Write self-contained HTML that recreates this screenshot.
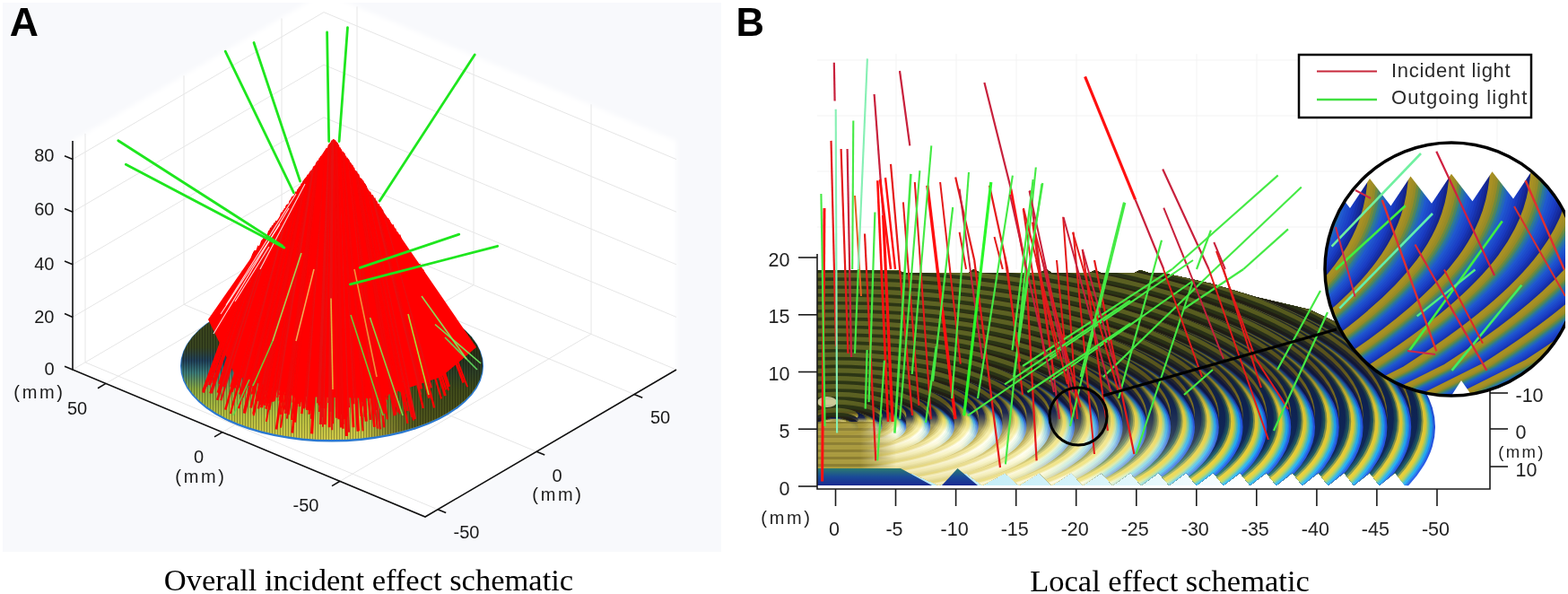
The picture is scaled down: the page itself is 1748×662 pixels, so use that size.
<!DOCTYPE html><html><head><meta charset="utf-8"><style>html,body{margin:0;padding:0;background:#fff;overflow:hidden}svg{display:block}</style></head><body><svg width="1748" height="662" viewBox="0 0 1748 662"><rect x="3" y="3" width="801" height="612" fill="#f8f9fc"/><defs><filter id="soft" x="-5%" y="-5%" width="110%" height="110%"><feGaussianBlur stdDeviation="2.5"/></filter></defs><polygon points="81,157 361,-8 754,157 754,412 474,576 81,412" fill="#ffffff" filter="url(#soft)"/><polyline points="81,412.0 361,248.0 754,412.0" stroke="#e6e6e6" stroke-width="1" fill="none"/><polyline points="81,353.4 361,189.4 754,353.4" stroke="#e6e6e6" stroke-width="1" fill="none"/><polyline points="81,294.8 361,130.8 754,294.8" stroke="#e6e6e6" stroke-width="1" fill="none"/><polyline points="81,236.2 361,72.2 754,236.2" stroke="#e6e6e6" stroke-width="1" fill="none"/><polyline points="81,177.6 361,13.6 754,177.6" stroke="#e6e6e6" stroke-width="1" fill="none"/><line x1="95" y1="403.8" x2="95" y2="148.8" stroke="#e6e6e6" stroke-width="1" fill="none"/><line x1="205" y1="339.3" x2="205" y2="84.3" stroke="#e6e6e6" stroke-width="1" fill="none"/><line x1="314" y1="275.5" x2="314" y2="20.5" stroke="#e6e6e6" stroke-width="1" fill="none"/><line x1="398" y1="263.4" x2="398" y2="7.4" stroke="#e6e6e6" stroke-width="1" fill="none"/><line x1="528" y1="317.6" x2="528" y2="61.6" stroke="#e6e6e6" stroke-width="1" fill="none"/><line x1="659" y1="372.3" x2="659" y2="116.3" stroke="#e6e6e6" stroke-width="1" fill="none"/><line x1="95" y1="403.8" x2="488" y2="567.8" stroke="#e6e6e6" stroke-width="1" fill="none"/><line x1="205" y1="339.3" x2="598" y2="503.3" stroke="#e6e6e6" stroke-width="1" fill="none"/><line x1="314" y1="275.5" x2="707" y2="439.5" stroke="#e6e6e6" stroke-width="1" fill="none"/><line x1="398" y1="263.4" x2="118" y2="427.4" stroke="#e6e6e6" stroke-width="1" fill="none"/><line x1="528" y1="317.6" x2="248" y2="481.6" stroke="#e6e6e6" stroke-width="1" fill="none"/><line x1="659" y1="372.3" x2="379" y2="536.3" stroke="#e6e6e6" stroke-width="1" fill="none"/><polyline points="81,157 81,412 474,576 754,412" stroke="#111" stroke-width="1.6" fill="none"/><line x1="81" y1="412.0" x2="72" y2="408.2" stroke="#111" stroke-width="1.6" fill="none"/><line x1="81" y1="353.4" x2="72" y2="349.6" stroke="#111" stroke-width="1.6" fill="none"/><line x1="81" y1="294.8" x2="72" y2="291.0" stroke="#111" stroke-width="1.6" fill="none"/><line x1="81" y1="236.2" x2="72" y2="232.4" stroke="#111" stroke-width="1.6" fill="none"/><line x1="81" y1="177.6" x2="72" y2="173.8" stroke="#111" stroke-width="1.6" fill="none"/><line x1="118" y1="427.4" x2="109" y2="432.7" stroke="#111" stroke-width="1.6" fill="none"/><line x1="248" y1="481.6" x2="239" y2="486.9" stroke="#111" stroke-width="1.6" fill="none"/><line x1="379" y1="536.3" x2="370" y2="541.6" stroke="#111" stroke-width="1.6" fill="none"/><line x1="488" y1="567.8" x2="497.2" y2="571.6" stroke="#111" stroke-width="1.6" fill="none"/><line x1="598" y1="503.3" x2="607.2" y2="507.1" stroke="#111" stroke-width="1.6" fill="none"/><line x1="707" y1="439.5" x2="716.2" y2="443.3" stroke="#111" stroke-width="1.6" fill="none"/><text x="60.5" y="417.5" text-anchor="end" font-family="Liberation Sans, Arial, sans-serif" font-size="20" fill="#1a1a1a">0</text><text x="60.5" y="359.6" text-anchor="end" font-family="Liberation Sans, Arial, sans-serif" font-size="20" fill="#1a1a1a">20</text><text x="60.5" y="300.5" text-anchor="end" font-family="Liberation Sans, Arial, sans-serif" font-size="20" fill="#1a1a1a">40</text><text x="60.5" y="240.3" text-anchor="end" font-family="Liberation Sans, Arial, sans-serif" font-size="20" fill="#1a1a1a">60</text><text x="60.5" y="180.4" text-anchor="end" font-family="Liberation Sans, Arial, sans-serif" font-size="20" fill="#1a1a1a">80</text><text x="44" y="444" text-anchor="middle" letter-spacing="2.7" font-family="Liberation Sans, Arial, sans-serif" font-size="20" fill="#1a1a1a">(mm)</text><text x="86" y="462" text-anchor="middle" font-family="Liberation Sans, Arial, sans-serif" font-size="20" fill="#1a1a1a">50</text><text x="221.5" y="516.4" text-anchor="middle" font-family="Liberation Sans, Arial, sans-serif" font-size="20" fill="#1a1a1a">0</text><text x="224" y="538" text-anchor="middle" letter-spacing="2.7" font-family="Liberation Sans, Arial, sans-serif" font-size="20" fill="#1a1a1a">(mm)</text><text x="341" y="570" text-anchor="middle" font-family="Liberation Sans, Arial, sans-serif" font-size="20" fill="#1a1a1a">-50</text><text x="520" y="600" text-anchor="middle" font-family="Liberation Sans, Arial, sans-serif" font-size="20" fill="#1a1a1a">-50</text><text x="621" y="537" text-anchor="middle" font-family="Liberation Sans, Arial, sans-serif" font-size="20" fill="#1a1a1a">0</text><text x="622" y="558" text-anchor="middle" letter-spacing="2.7" font-family="Liberation Sans, Arial, sans-serif" font-size="20" fill="#1a1a1a">(mm)</text><text x="736" y="472" text-anchor="middle" font-family="Liberation Sans, Arial, sans-serif" font-size="20" fill="#1a1a1a">50</text><defs><linearGradient id="discg" x1="0" y1="0" x2="0" y2="1"><stop offset="0" stop-color="#3c4418"/><stop offset="0.38" stop-color="#384420"/><stop offset="0.47" stop-color="#20405a"/><stop offset="0.55" stop-color="#3a7a78"/><stop offset="0.66" stop-color="#8aa840"/><stop offset="0.85" stop-color="#b8c040"/><stop offset="1" stop-color="#d0c848"/></linearGradient><linearGradient id="discr" x1="0" y1="0" x2="1" y2="0"><stop offset="0" stop-color="#000" stop-opacity="0"/><stop offset="0.6" stop-color="#000" stop-opacity="0"/><stop offset="0.78" stop-color="#2a3010" stop-opacity="0.75"/><stop offset="1" stop-color="#2a3010" stop-opacity="0.8"/></linearGradient><pattern id="hatch" width="3" height="10" patternUnits="userSpaceOnUse"><rect x="0" y="0" width="1" height="10" fill="#000" fill-opacity="0.28"/></pattern></defs><ellipse cx="370" cy="408" rx="169" ry="84.5" fill="#2a78d0"/><ellipse cx="370" cy="407" rx="168" ry="83" fill="url(#discg)"/><ellipse cx="370" cy="407" rx="168" ry="83" fill="url(#discr)"/><ellipse cx="370" cy="407" rx="168" ry="83" fill="url(#hatch)"/><polygon points="372,155 232,356 262,418 330,442 420,444 492,420 531,387" fill="#ff0000"/><line x1="356.7" y1="176.9" x2="326.3" y2="448.5" stroke="#ff0000" stroke-width="1.9"/><line x1="374.5" y1="158.7" x2="380.9" y2="461.8" stroke="#ff0000" stroke-width="3.1"/><line x1="347.6" y1="189.8" x2="307.1" y2="438.6" stroke="#f40606" stroke-width="1.9"/><line x1="321.2" y1="227.5" x2="265.8" y2="432.3" stroke="#e81010" stroke-width="2.0"/><line x1="334.5" y1="208.6" x2="279.7" y2="454.5" stroke="#ff0000" stroke-width="2.6"/><line x1="357.9" y1="175.1" x2="325.8" y2="482.5" stroke="#ff0000" stroke-width="2.6"/><line x1="327.4" y1="218.6" x2="272.7" y2="437.9" stroke="#e81010" stroke-width="2.0"/><line x1="345.2" y1="193.2" x2="296.9" y2="469.8" stroke="#ff0000" stroke-width="1.9"/><line x1="377.0" y1="162.3" x2="388.8" y2="454.3" stroke="#ff0000" stroke-width="2.6"/><line x1="335.7" y1="206.9" x2="288.6" y2="423.1" stroke="#ff0000" stroke-width="2.5"/><line x1="374.8" y1="159.1" x2="382.4" y2="477.7" stroke="#f40606" stroke-width="2.6"/><line x1="367.5" y1="161.4" x2="356.5" y2="459.1" stroke="#ff0000" stroke-width="2.8"/><line x1="339.3" y1="201.7" x2="288.0" y2="455.4" stroke="#e81010" stroke-width="2.5"/><line x1="355.2" y1="179.0" x2="321.2" y2="460.1" stroke="#e81010" stroke-width="3.2"/><line x1="325.3" y1="221.6" x2="270.3" y2="435.9" stroke="#ff0000" stroke-width="2.0"/><line x1="370.7" y1="156.9" x2="367.4" y2="449.5" stroke="#ff0000" stroke-width="2.9"/><line x1="380.0" y1="166.7" x2="399.9" y2="480.3" stroke="#ff0000" stroke-width="2.3"/><line x1="355.5" y1="178.6" x2="321.7" y2="462.2" stroke="#f40606" stroke-width="1.9"/><line x1="329.0" y1="216.4" x2="277.0" y2="430.0" stroke="#ff0000" stroke-width="1.9"/><line x1="396.0" y1="190.1" x2="439.6" y2="463.3" stroke="#f40606" stroke-width="2.2"/><line x1="358.5" y1="174.3" x2="328.6" y2="470.6" stroke="#ff0000" stroke-width="3.1"/><line x1="355.0" y1="179.3" x2="319.9" y2="466.6" stroke="#f40606" stroke-width="1.9"/><line x1="394.1" y1="187.3" x2="432.1" y2="441.3" stroke="#ff0000" stroke-width="2.4"/><line x1="362.9" y1="168.0" x2="342.3" y2="456.9" stroke="#ff0000" stroke-width="2.9"/><line x1="352.7" y1="182.5" x2="313.0" y2="476.6" stroke="#ff0000" stroke-width="2.0"/><line x1="339.7" y1="201.2" x2="292.0" y2="438.8" stroke="#ff0000" stroke-width="1.8"/><line x1="401.6" y1="198.3" x2="446.2" y2="436.8" stroke="#ff0000" stroke-width="1.8"/><line x1="364.1" y1="166.3" x2="345.5" y2="460.9" stroke="#e81010" stroke-width="2.2"/><line x1="304.3" y1="251.7" x2="242.2" y2="445.8" stroke="#e81010" stroke-width="2.7"/><line x1="397.9" y1="192.9" x2="442.1" y2="453.5" stroke="#e81010" stroke-width="2.3"/><line x1="363.7" y1="166.8" x2="345.3" y2="450.3" stroke="#f40606" stroke-width="1.9"/><line x1="329.2" y1="216.1" x2="278.3" y2="425.8" stroke="#ff0000" stroke-width="2.0"/><line x1="378.9" y1="165.1" x2="394.6" y2="450.3" stroke="#e81010" stroke-width="2.0"/><line x1="325.6" y1="221.2" x2="271.5" y2="432.7" stroke="#ff0000" stroke-width="1.9"/><line x1="339.2" y1="201.8" x2="289.8" y2="445.9" stroke="#ff0000" stroke-width="3.1"/><line x1="381.4" y1="168.8" x2="403.0" y2="464.0" stroke="#ff0000" stroke-width="3.0"/><line x1="433.6" y1="245.2" x2="486.3" y2="420.3" stroke="#ff0000" stroke-width="2.0"/><line x1="405.8" y1="204.4" x2="458.5" y2="461.1" stroke="#ff0000" stroke-width="2.5"/><line x1="320.4" y1="228.6" x2="256.9" y2="461.0" stroke="#ff0000" stroke-width="2.0"/><line x1="374.3" y1="158.4" x2="380.0" y2="448.8" stroke="#e81010" stroke-width="2.2"/><line x1="382.2" y1="170.0" x2="404.2" y2="448.2" stroke="#ff0000" stroke-width="2.5"/><line x1="375.3" y1="159.8" x2="383.8" y2="467.0" stroke="#ff0000" stroke-width="2.7"/><line x1="342.8" y1="196.7" x2="295.6" y2="449.8" stroke="#ff0000" stroke-width="2.1"/><line x1="370.7" y1="156.8" x2="367.2" y2="476.2" stroke="#ff0000" stroke-width="2.9"/><line x1="369.3" y1="158.8" x2="362.6" y2="455.3" stroke="#e81010" stroke-width="3.1"/><line x1="365.1" y1="164.8" x2="347.6" y2="483.3" stroke="#ff0000" stroke-width="3.1"/><line x1="359.8" y1="172.4" x2="333.9" y2="453.2" stroke="#ff0000" stroke-width="2.5"/><line x1="354.1" y1="180.5" x2="318.4" y2="460.9" stroke="#e81010" stroke-width="3.0"/><line x1="369.4" y1="158.7" x2="362.5" y2="473.1" stroke="#ff0000" stroke-width="3.0"/><line x1="326.9" y1="219.4" x2="272.6" y2="435.6" stroke="#ff0000" stroke-width="2.5"/><line x1="320.3" y1="228.8" x2="259.0" y2="452.8" stroke="#ff0000" stroke-width="1.9"/><line x1="444.9" y1="261.6" x2="500.6" y2="431.0" stroke="#ff0000" stroke-width="2.8"/><line x1="342.3" y1="197.4" x2="297.3" y2="435.6" stroke="#ff0000" stroke-width="2.6"/><line x1="367.9" y1="160.8" x2="357.4" y2="473.0" stroke="#e81010" stroke-width="3.0"/><line x1="375.0" y1="159.4" x2="382.3" y2="452.6" stroke="#ff0000" stroke-width="2.9"/><line x1="389.7" y1="180.8" x2="422.6" y2="443.7" stroke="#ff0000" stroke-width="2.4"/><line x1="346.7" y1="191.1" x2="303.8" y2="447.8" stroke="#ff0000" stroke-width="2.9"/><line x1="351.8" y1="183.8" x2="312.8" y2="462.2" stroke="#ff0000" stroke-width="1.9"/><line x1="407.6" y1="207.1" x2="463.0" y2="467.0" stroke="#e81010" stroke-width="2.4"/><line x1="425.7" y1="233.6" x2="480.8" y2="432.3" stroke="#e81010" stroke-width="2.5"/><line x1="432.3" y1="243.2" x2="492.0" y2="444.4" stroke="#ff0000" stroke-width="2.0"/><line x1="368.7" y1="159.7" x2="359.9" y2="475.8" stroke="#e81010" stroke-width="1.9"/><line x1="391.5" y1="183.6" x2="429.3" y2="461.0" stroke="#f40606" stroke-width="2.9"/><line x1="316.6" y1="234.1" x2="258.7" y2="436.9" stroke="#ff0000" stroke-width="2.1"/><line x1="332.5" y1="211.4" x2="284.1" y2="421.3" stroke="#f40606" stroke-width="2.6"/><line x1="382.8" y1="170.7" x2="406.9" y2="464.7" stroke="#e81010" stroke-width="2.1"/><line x1="345.7" y1="192.6" x2="300.1" y2="456.8" stroke="#f40606" stroke-width="2.5"/><line x1="341.1" y1="199.2" x2="291.5" y2="454.3" stroke="#ff0000" stroke-width="3.1"/><line x1="363.7" y1="166.8" x2="344.4" y2="461.7" stroke="#ff0000" stroke-width="1.9"/><line x1="350.3" y1="186.0" x2="312.4" y2="440.3" stroke="#ff0000" stroke-width="2.9"/><line x1="407.0" y1="206.1" x2="453.9" y2="429.1" stroke="#ff0000" stroke-width="2.0"/><line x1="424.5" y1="231.8" x2="477.6" y2="425.7" stroke="#ff0000" stroke-width="2.0"/><line x1="364.7" y1="165.4" x2="347.2" y2="466.8" stroke="#ff0000" stroke-width="2.4"/><line x1="360.3" y1="171.7" x2="335.7" y2="448.2" stroke="#ff0000" stroke-width="1.8"/><line x1="376.3" y1="161.4" x2="387.2" y2="464.3" stroke="#ff0000" stroke-width="2.3"/><line x1="372.8" y1="156.2" x2="375.0" y2="459.3" stroke="#ff0000" stroke-width="2.0"/><line x1="412.1" y1="213.7" x2="461.6" y2="427.8" stroke="#ff0000" stroke-width="2.2"/><line x1="288.7" y1="274.0" x2="233.4" y2="429.2" stroke="#ff0000" stroke-width="2.9"/><line x1="423.5" y1="230.4" x2="484.2" y2="454.5" stroke="#ff0000" stroke-width="2.4"/><line x1="374.9" y1="159.2" x2="382.3" y2="467.5" stroke="#f40606" stroke-width="2.8"/><line x1="337.7" y1="203.9" x2="291.3" y2="425.9" stroke="#ff0000" stroke-width="2.4"/><line x1="283.9" y1="280.8" x2="226.5" y2="437.5" stroke="#ff0000" stroke-width="2.9"/><line x1="293.5" y1="267.1" x2="234.3" y2="438.3" stroke="#ff0000" stroke-width="2.2"/><line x1="341.9" y1="197.9" x2="298.1" y2="428.3" stroke="#e81010" stroke-width="2.4"/><line x1="402.4" y1="199.5" x2="454.4" y2="471.9" stroke="#ff0000" stroke-width="2.2"/><line x1="315.1" y1="236.3" x2="251.2" y2="456.7" stroke="#ff0000" stroke-width="2.5"/><line x1="336.9" y1="205.1" x2="285.4" y2="447.5" stroke="#ff0000" stroke-width="2.2"/><line x1="306.3" y1="248.8" x2="251.7" y2="422.5" stroke="#ff0000" stroke-width="2.5"/><line x1="342.5" y1="197.1" x2="294.7" y2="451.8" stroke="#f40606" stroke-width="2.7"/><line x1="376.7" y1="161.9" x2="389.0" y2="481.7" stroke="#e81010" stroke-width="2.2"/><line x1="344.0" y1="194.9" x2="299.4" y2="442.6" stroke="#ff0000" stroke-width="3.0"/><line x1="396.6" y1="191.0" x2="440.8" y2="462.4" stroke="#f40606" stroke-width="3.2"/><line x1="387.3" y1="177.4" x2="420.8" y2="477.6" stroke="#f40606" stroke-width="2.0"/><line x1="294.8" y1="265.2" x2="235.5" y2="438.2" stroke="#e81010" stroke-width="2.7"/><line x1="351.1" y1="184.9" x2="313.0" y2="448.7" stroke="#ff0000" stroke-width="1.9"/><line x1="339.6" y1="201.3" x2="291.4" y2="440.6" stroke="#ff0000" stroke-width="2.2"/><line x1="471.1" y1="300.0" x2="521.1" y2="431.2" stroke="#ff0000" stroke-width="1.8"/><line x1="358.5" y1="174.2" x2="331.2" y2="446.9" stroke="#ff0000" stroke-width="2.5"/><line x1="334.4" y1="208.6" x2="281.0" y2="448.5" stroke="#ff0000" stroke-width="1.9"/><line x1="399.1" y1="194.6" x2="441.6" y2="437.3" stroke="#e81010" stroke-width="1.9"/><line x1="319.9" y1="229.4" x2="267.1" y2="421.1" stroke="#ff0000" stroke-width="1.9"/><line x1="437.3" y1="250.5" x2="496.4" y2="441.2" stroke="#ff0000" stroke-width="2.8"/><line x1="371.0" y1="156.5" x2="368.3" y2="458.9" stroke="#e81010" stroke-width="2.7"/><line x1="284.8" y1="279.5" x2="229.8" y2="430.6" stroke="#e81010" stroke-width="2.7"/><line x1="373.6" y1="157.4" x2="377.9" y2="467.3" stroke="#ff0000" stroke-width="3.0"/><line x1="381.6" y1="169.0" x2="404.6" y2="480.4" stroke="#ff0000" stroke-width="1.9"/><line x1="300.4" y1="257.2" x2="244.2" y2="427.8" stroke="#ff0000" stroke-width="2.3"/><line x1="368.0" y1="160.7" x2="358.5" y2="449.6" stroke="#ff0000" stroke-width="2.7"/><line x1="390.7" y1="182.4" x2="427.2" y2="459.8" stroke="#ff0000" stroke-width="2.4"/><line x1="283.7" y1="281.1" x2="226.6" y2="437.0" stroke="#e81010" stroke-width="1.9"/><line x1="374.2" y1="158.2" x2="380.0" y2="476.6" stroke="#f40606" stroke-width="2.2"/><line x1="327.2" y1="219.0" x2="275.0" y2="427.5" stroke="#ff0000" stroke-width="2.1"/><line x1="386.7" y1="176.4" x2="417.2" y2="460.9" stroke="#f40606" stroke-width="1.9"/><line x1="382.4" y1="170.2" x2="404.8" y2="452.5" stroke="#e81010" stroke-width="2.0"/><line x1="336.9" y1="205.1" x2="282.5" y2="461.6" stroke="#ff0000" stroke-width="2.7"/><line x1="324.8" y1="222.4" x2="268.6" y2="439.3" stroke="#f40606" stroke-width="2.2"/><line x1="392.2" y1="184.6" x2="431.8" y2="467.4" stroke="#f40606" stroke-width="2.2"/><line x1="372.9" y1="156.3" x2="375.4" y2="465.8" stroke="#f40606" stroke-width="2.9"/><line x1="318.0" y1="232.1" x2="261.7" y2="432.4" stroke="#ff0000" stroke-width="2.4"/><line x1="350.3" y1="186.0" x2="311.5" y2="446.7" stroke="#ff0000" stroke-width="1.9"/><line x1="302.6" y1="254.1" x2="243.1" y2="437.7" stroke="#ff0000" stroke-width="3.1"/><line x1="308.2" y1="246.0" x2="246.3" y2="446.2" stroke="#e81010" stroke-width="2.2"/><line x1="327.0" y1="219.2" x2="273.0" y2="434.2" stroke="#f40606" stroke-width="3.1"/><line x1="370.5" y1="157.1" x2="366.8" y2="448.9" stroke="#ff0000" stroke-width="3.1"/><line x1="389.7" y1="180.9" x2="424.4" y2="456.8" stroke="#ff0000" stroke-width="2.4"/><line x1="361.7" y1="169.7" x2="339.4" y2="450.1" stroke="#ff0000" stroke-width="1.8"/><line x1="440.1" y1="254.7" x2="497.1" y2="434.3" stroke="#ff0000" stroke-width="2.2"/><line x1="319.7" y1="229.7" x2="264.9" y2="428.1" stroke="#e81010" stroke-width="1.9"/><line x1="442.9" y1="258.7" x2="500.0" y2="435.1" stroke="#ff0000" stroke-width="1.9"/><line x1="405.3" y1="203.8" x2="453.2" y2="438.9" stroke="#ff0000" stroke-width="2.1"/><line x1="344.0" y1="195.0" x2="296.8" y2="455.8" stroke="#ff0000" stroke-width="2.9"/><line x1="403.4" y1="200.9" x2="451.5" y2="448.0" stroke="#ff0000" stroke-width="2.9"/><line x1="388.4" y1="179.0" x2="423.8" y2="478.4" stroke="#e81010" stroke-width="2.6"/><line x1="388.2" y1="178.6" x2="418.9" y2="442.5" stroke="#f40606" stroke-width="2.4"/><line x1="404.0" y1="201.8" x2="454.6" y2="457.9" stroke="#ff0000" stroke-width="2.5"/><line x1="364.1" y1="166.3" x2="345.9" y2="457.5" stroke="#ff0000" stroke-width="2.8"/><line x1="419.0" y1="223.8" x2="469.4" y2="420.8" stroke="#ff0000" stroke-width="2.5"/><line x1="384.8" y1="173.7" x2="411.0" y2="447.9" stroke="#ff0000" stroke-width="1.9"/><line x1="371.5" y1="155.7" x2="370.2" y2="479.3" stroke="#e81010" stroke-width="2.1"/><line x1="337.1" y1="204.9" x2="288.5" y2="433.9" stroke="#ff0000" stroke-width="2.0"/><line x1="376.1" y1="161.1" x2="386.4" y2="459.7" stroke="#ff0000" stroke-width="2.2"/><line x1="379.6" y1="166.2" x2="398.7" y2="480.8" stroke="#f40606" stroke-width="2.3"/><line x1="393.6" y1="186.5" x2="431.7" y2="445.5" stroke="#ff0000" stroke-width="2.3"/><line x1="325.3" y1="221.7" x2="272.8" y2="426.1" stroke="#ff0000" stroke-width="2.0"/><line x1="371.8" y1="155.3" x2="371.2" y2="472.3" stroke="#ff0000" stroke-width="1.9"/><line x1="416.9" y1="220.6" x2="469.7" y2="433.3" stroke="#f40606" stroke-width="3.1"/><line x1="292.9" y1="267.9" x2="237.7" y2="427.0" stroke="#f40606" stroke-width="3.2"/><line x1="370.7" y1="156.8" x2="367.5" y2="450.8" stroke="#e81010" stroke-width="3.0"/><line x1="326.4" y1="220.1" x2="270.0" y2="443.0" stroke="#ff0000" stroke-width="3.1"/><line x1="399.1" y1="194.6" x2="445.8" y2="461.3" stroke="#f40606" stroke-width="1.9"/><line x1="391.9" y1="184.2" x2="426.9" y2="436.9" stroke="#ff0000" stroke-width="2.1"/><line x1="333.6" y1="209.9" x2="282.9" y2="433.8" stroke="#f40606" stroke-width="2.8"/><line x1="339.0" y1="202.1" x2="293.0" y2="428.5" stroke="#e81010" stroke-width="3.1"/><line x1="340.5" y1="199.9" x2="293.1" y2="441.1" stroke="#e81010" stroke-width="1.8"/><line x1="375.9" y1="160.7" x2="386.4" y2="486.0" stroke="#ff0000" stroke-width="3.1"/><line x1="390.3" y1="181.7" x2="428.3" y2="476.3" stroke="#f40606" stroke-width="2.5"/><line x1="374.6" y1="158.8" x2="380.9" y2="448.8" stroke="#f40606" stroke-width="2.8"/><line x1="357.0" y1="176.5" x2="327.6" y2="443.2" stroke="#f40606" stroke-width="3.0"/><line x1="382.5" y1="170.4" x2="404.8" y2="447.6" stroke="#ff0000" stroke-width="2.7"/><line x1="354.9" y1="179.5" x2="320.6" y2="458.7" stroke="#f40606" stroke-width="2.1"/><line x1="414.7" y1="217.4" x2="471.8" y2="455.0" stroke="#ff0000" stroke-width="2.5"/><line x1="325.9" y1="220.9" x2="266.0" y2="455.3" stroke="#ff0000" stroke-width="2.1"/><line x1="330.3" y1="214.6" x2="272.1" y2="458.0" stroke="#ff0000" stroke-width="2.0"/><line x1="384.9" y1="173.8" x2="413.1" y2="467.9" stroke="#ff0000" stroke-width="2.5"/><line x1="404.2" y1="202.0" x2="448.6" y2="425.9" stroke="#e81010" stroke-width="2.0"/><line x1="362.5" y1="168.5" x2="341.5" y2="454.2" stroke="#e81010" stroke-width="2.0"/><line x1="334.9" y1="208.0" x2="287.6" y2="421.9" stroke="#f40606" stroke-width="2.4"/><line x1="391.8" y1="184.0" x2="428.7" y2="451.5" stroke="#ff0000" stroke-width="3.2"/><line x1="387.4" y1="177.5" x2="418.7" y2="457.1" stroke="#ff0000" stroke-width="3.2"/><line x1="367.2" y1="161.9" x2="355.7" y2="451.6" stroke="#ff0000" stroke-width="2.2"/><line x1="350.8" y1="185.3" x2="308.0" y2="478.5" stroke="#ff0000" stroke-width="2.6"/><line x1="398.7" y1="194.1" x2="443.0" y2="449.4" stroke="#ff0000" stroke-width="3.0"/><line x1="366.6" y1="162.7" x2="354.1" y2="449.2" stroke="#f40606" stroke-width="2.1"/><line x1="375.2" y1="159.7" x2="383.3" y2="464.8" stroke="#ff0000" stroke-width="2.3"/><line x1="402.2" y1="199.1" x2="445.3" y2="426.8" stroke="#f40606" stroke-width="2.1"/><line x1="383.4" y1="171.7" x2="408.4" y2="460.3" stroke="#f40606" stroke-width="1.8"/><line x1="282.5" y1="282.8" x2="226.2" y2="435.3" stroke="#ff0000" stroke-width="2.1"/><line x1="306.4" y1="248.7" x2="249.1" y2="430.9" stroke="#ff0000" stroke-width="2.2"/><line x1="392.4" y1="184.8" x2="429.9" y2="451.2" stroke="#ff0000" stroke-width="2.2"/><line x1="398.1" y1="193.1" x2="443.5" y2="459.7" stroke="#ff0000" stroke-width="1.8"/><line x1="340.2" y1="200.4" x2="290.4" y2="451.4" stroke="#f40606" stroke-width="3.1"/><line x1="361.6" y1="169.8" x2="338.8" y2="455.3" stroke="#f40606" stroke-width="2.9"/><line x1="324.0" y1="223.5" x2="267.6" y2="439.5" stroke="#ff0000" stroke-width="2.9"/><line x1="405.6" y1="204.2" x2="459.0" y2="464.9" stroke="#e81010" stroke-width="2.1"/><line x1="415.3" y1="218.4" x2="469.0" y2="439.6" stroke="#e81010" stroke-width="1.9"/><line x1="325.7" y1="221.2" x2="266.0" y2="454.6" stroke="#ff0000" stroke-width="2.4"/><line x1="386.8" y1="176.7" x2="417.8" y2="461.7" stroke="#e81010" stroke-width="2.3"/><line x1="467.2" y1="294.2" x2="516.7" y2="426.5" stroke="#ff0000" stroke-width="2.7"/><line x1="338.0" y1="203.5" x2="287.4" y2="447.1" stroke="#f40606" stroke-width="2.0"/><line x1="325.6" y1="221.2" x2="269.9" y2="438.8" stroke="#ff0000" stroke-width="2.8"/><line x1="406.3" y1="205.2" x2="454.8" y2="438.4" stroke="#e81010" stroke-width="2.2"/><line x1="347.7" y1="189.7" x2="305.9" y2="447.0" stroke="#f40606" stroke-width="2.1"/><line x1="349.0" y1="187.8" x2="309.3" y2="443.1" stroke="#e81010" stroke-width="2.1"/><line x1="326.9" y1="219.4" x2="274.9" y2="426.1" stroke="#ff0000" stroke-width="2.5"/><line x1="330.9" y1="213.7" x2="272.4" y2="460.7" stroke="#f40606" stroke-width="3.2"/><line x1="320.4" y1="228.7" x2="264.0" y2="434.8" stroke="#ff0000" stroke-width="3.0"/><line x1="403.8" y1="201.5" x2="447.8" y2="425.2" stroke="#ff0000" stroke-width="2.1"/><line x1="304.5" y1="251.3" x2="247.9" y2="428.8" stroke="#e81010" stroke-width="2.1"/><line x1="314.1" y1="237.6" x2="257.4" y2="431.4" stroke="#ff0000" stroke-width="2.4"/><line x1="337.3" y1="204.6" x2="282.6" y2="463.3" stroke="#ff0000" stroke-width="1.9"/><line x1="381.6" y1="169.1" x2="404.0" y2="469.7" stroke="#ff0000" stroke-width="1.9"/><line x1="359.4" y1="173.0" x2="333.5" y2="445.7" stroke="#ff0000" stroke-width="1.9"/><line x1="406.4" y1="205.4" x2="461.2" y2="468.5" stroke="#ff0000" stroke-width="2.4"/><line x1="357.0" y1="176.4" x2="325.0" y2="468.0" stroke="#ff0000" stroke-width="2.1"/><line x1="324.1" y1="223.4" x2="269.3" y2="433.2" stroke="#e81010" stroke-width="2.0"/><line x1="374.9" y1="159.2" x2="382.4" y2="472.9" stroke="#f40606" stroke-width="2.8"/><line x1="363.6" y1="167.0" x2="344.4" y2="457.4" stroke="#ff0000" stroke-width="2.4"/><line x1="294.1" y1="266.3" x2="237.4" y2="430.9" stroke="#ff0000" stroke-width="2.4"/><line x1="285.0" y1="279.2" x2="231.9" y2="425.1" stroke="#ff0000" stroke-width="2.7"/><line x1="360.9" y1="170.8" x2="336.4" y2="461.1" stroke="#ff0000" stroke-width="2.4"/><line x1="341.4" y1="198.6" x2="296.1" y2="433.9" stroke="#ff0000" stroke-width="2.4"/><line x1="302.4" y1="254.3" x2="247.9" y2="422.4" stroke="#f40606" stroke-width="1.9"/><line x1="382.8" y1="170.8" x2="406.6" y2="459.3" stroke="#e81010" stroke-width="2.0"/><line x1="358.8" y1="173.9" x2="331.5" y2="450.2" stroke="#ff0000" stroke-width="3.1"/><line x1="320.6" y1="228.4" x2="263.9" y2="436.0" stroke="#ff0000" stroke-width="2.2"/><line x1="397.9" y1="193.0" x2="438.6" y2="432.9" stroke="#f40606" stroke-width="2.2"/><line x1="383.1" y1="171.2" x2="408.3" y2="469.7" stroke="#ff0000" stroke-width="3.1"/><line x1="386.1" y1="175.7" x2="417.4" y2="475.9" stroke="#ff0000" stroke-width="2.7"/><line x1="421.4" y1="227.3" x2="478.5" y2="443.7" stroke="#ff0000" stroke-width="3.0"/><line x1="340.8" y1="199.5" x2="294.0" y2="439.1" stroke="#f40606" stroke-width="3.1"/><line x1="333.0" y1="210.7" x2="280.6" y2="439.6" stroke="#ff0000" stroke-width="2.1"/><line x1="378.3" y1="164.2" x2="394.0" y2="476.2" stroke="#ff0000" stroke-width="2.7"/><line x1="353.6" y1="181.2" x2="317.8" y2="456.7" stroke="#f40606" stroke-width="2.6"/><line x1="382.7" y1="170.7" x2="406.2" y2="456.7" stroke="#f40606" stroke-width="2.2"/><line x1="344.3" y1="194.5" x2="298.5" y2="450.4" stroke="#ff0000" stroke-width="2.4"/><line x1="367.2" y1="161.9" x2="355.8" y2="448.3" stroke="#e81010" stroke-width="3.2"/><line x1="368.3" y1="160.3" x2="358.9" y2="465.0" stroke="#e81010" stroke-width="2.9"/><line x1="368.2" y1="160.4" x2="359.0" y2="454.6" stroke="#f40606" stroke-width="2.4"/><line x1="330" y1="216" x2="252" y2="340" stroke="#fff0f0" stroke-width="1.1" opacity="0.9"/><line x1="322" y1="232" x2="238" y2="372" stroke="#fff0f0" stroke-width="1.1" opacity="0.9"/><line x1="312" y1="250" x2="246" y2="350" stroke="#fff0f0" stroke-width="1.1" opacity="0.9"/><line x1="340" y1="205" x2="290" y2="300" stroke="#fff0f0" stroke-width="1.1" opacity="0.9"/><line x1="300" y1="275" x2="262" y2="336" stroke="#fff0f0" stroke-width="1.1" opacity="0.9"/><line x1="336" y1="282" x2="304" y2="380" stroke="#a0e860" stroke-width="1.6" opacity="0.9"/><line x1="304" y1="380" x2="282" y2="430" stroke="#60e040" stroke-width="1.6" opacity="0.9"/><line x1="391" y1="351" x2="427" y2="463" stroke="#60e040" stroke-width="1.6" opacity="0.9"/><line x1="412.5" y1="354" x2="449" y2="463" stroke="#80e850" stroke-width="1.6" opacity="0.9"/><line x1="485" y1="361.5" x2="536" y2="405" stroke="#70f060" stroke-width="1.6" opacity="0.9"/><line x1="496" y1="376" x2="532" y2="412" stroke="#60e060" stroke-width="1.6" opacity="0.9"/><line x1="369" y1="332.5" x2="371" y2="434" stroke="#e8c040" stroke-width="1.6" opacity="0.9"/><line x1="278" y1="423" x2="260" y2="463" stroke="#50e050" stroke-width="1.6" opacity="0.9"/><line x1="395" y1="300" x2="420" y2="420" stroke="#f0a040" stroke-width="1.6" opacity="0.9"/><line x1="350" y1="300" x2="330" y2="380" stroke="#f0c060" stroke-width="1.6" opacity="0.9"/><line x1="455" y1="350" x2="478" y2="440" stroke="#a0f040" stroke-width="1.6" opacity="0.9"/><line x1="470" y1="330" x2="520" y2="400" stroke="#80f060" stroke-width="1.6" opacity="0.9"/><line x1="131.8" y1="156.7" x2="314.7" y2="273.9" stroke="#1ee61e" stroke-width="2.8" stroke-linecap="round"/><line x1="140.3" y1="183.3" x2="316.8" y2="276" stroke="#1ee61e" stroke-width="2.8" stroke-linecap="round"/><line x1="251.2" y1="57.2" x2="327.4" y2="214.7" stroke="#1ee61e" stroke-width="2.8" stroke-linecap="round"/><line x1="283" y1="47.5" x2="334.6" y2="202" stroke="#1ee61e" stroke-width="2.8" stroke-linecap="round"/><line x1="364.6" y1="36" x2="366.7" y2="157.5" stroke="#1ee61e" stroke-width="2.8" stroke-linecap="round"/><line x1="387.5" y1="30.6" x2="378.1" y2="157.5" stroke="#1ee61e" stroke-width="2.8" stroke-linecap="round"/><line x1="529.2" y1="61" x2="423.2" y2="224" stroke="#1ee61e" stroke-width="2.8" stroke-linecap="round"/><line x1="511.7" y1="261.2" x2="401.3" y2="298.4" stroke="#1ee61e" stroke-width="2.8" stroke-linecap="round"/><line x1="554.6" y1="274.3" x2="390.4" y2="316.8" stroke="#1ee61e" stroke-width="2.8" stroke-linecap="round"/><text x="10.8" y="40" font-family="Liberation Sans, Arial, sans-serif" font-weight="bold" font-size="44.5" fill="#000">A</text><text x="820.5" y="39.6" font-family="Liberation Sans, Arial, sans-serif" font-weight="bold" font-size="43.5" fill="#000">B</text><line x1="999" y1="60" x2="999" y2="300" stroke="#f3f3f3" stroke-width="1" fill="none"/><line x1="1066" y1="60" x2="1066" y2="300" stroke="#f3f3f3" stroke-width="1" fill="none"/><line x1="1133" y1="60" x2="1133" y2="300" stroke="#f3f3f3" stroke-width="1" fill="none"/><line x1="1200" y1="60" x2="1200" y2="300" stroke="#f3f3f3" stroke-width="1" fill="none"/><line x1="1267" y1="60" x2="1267" y2="300" stroke="#f3f3f3" stroke-width="1" fill="none"/><line x1="1334" y1="60" x2="1334" y2="300" stroke="#f3f3f3" stroke-width="1" fill="none"/><line x1="1401" y1="60" x2="1401" y2="300" stroke="#f3f3f3" stroke-width="1" fill="none"/><line x1="1468" y1="60" x2="1468" y2="300" stroke="#f3f3f3" stroke-width="1" fill="none"/><line x1="1535" y1="60" x2="1535" y2="300" stroke="#f3f3f3" stroke-width="1" fill="none"/><line x1="1602" y1="60" x2="1602" y2="300" stroke="#f3f3f3" stroke-width="1" fill="none"/><line x1="1669" y1="60" x2="1669" y2="300" stroke="#f3f3f3" stroke-width="1" fill="none"/><line x1="911" y1="67" x2="1661" y2="67" stroke="#f3f3f3" stroke-width="1" fill="none"/><line x1="911" y1="129" x2="1661" y2="129" stroke="#f3f3f3" stroke-width="1" fill="none"/><line x1="911" y1="191" x2="1661" y2="191" stroke="#f3f3f3" stroke-width="1" fill="none"/><line x1="911" y1="253" x2="1661" y2="253" stroke="#f3f3f3" stroke-width="1" fill="none"/><defs><linearGradient id="gb0" x1="0" y1="0" x2="0" y2="1"><stop offset="0" stop-color="#3a3414"/><stop offset="0.22" stop-color="#1c2230"/><stop offset="0.34" stop-color="#141c50"/><stop offset="0.45" stop-color="#2048d0"/><stop offset="0.6" stop-color="#2a5ce8"/><stop offset="0.72" stop-color="#3a7cf0"/><stop offset="0.8" stop-color="#c8e0d0"/><stop offset="1" stop-color="#e8e4a8"/></linearGradient><linearGradient id="gc0" x1="0" y1="0" x2="0" y2="1"><stop offset="0" stop-color="#4a4216"/><stop offset="0.22" stop-color="#203048"/><stop offset="0.34" stop-color="#1a3a78"/><stop offset="0.45" stop-color="#1a98e4"/><stop offset="0.6" stop-color="#26b0f0"/><stop offset="0.72" stop-color="#48c8f0"/><stop offset="0.8" stop-color="#f0f4d0"/><stop offset="1" stop-color="#f8f4c8"/></linearGradient><linearGradient id="gg0" x1="0" y1="0" x2="0" y2="1"><stop offset="0" stop-color="#5a5018"/><stop offset="0.22" stop-color="#3a4426"/><stop offset="0.34" stop-color="#2c5a60"/><stop offset="0.45" stop-color="#6ab880"/><stop offset="0.6" stop-color="#98cc70"/><stop offset="0.72" stop-color="#c0dc70"/><stop offset="0.8" stop-color="#fffff0"/><stop offset="1" stop-color="#fffce8"/></linearGradient><linearGradient id="gy0" x1="0" y1="0" x2="0" y2="1"><stop offset="0" stop-color="#7a6a20"/><stop offset="0.22" stop-color="#6a6020"/><stop offset="0.34" stop-color="#8a7a24"/><stop offset="0.45" stop-color="#d8c030"/><stop offset="0.6" stop-color="#e4cc38"/><stop offset="0.72" stop-color="#ecd648"/><stop offset="0.8" stop-color="#f4e880"/><stop offset="1" stop-color="#f0e490"/></linearGradient><linearGradient id="h10" x1="0" y1="0" x2="0" y2="1"><stop offset="0" stop-color="#5a5018"/><stop offset="0.22" stop-color="#3a3a18"/><stop offset="0.34" stop-color="#3a4020"/><stop offset="0.45" stop-color="#1e4a52"/><stop offset="0.6" stop-color="#205a64"/><stop offset="0.72" stop-color="#3a8a80"/><stop offset="0.8" stop-color="#d8cc70"/><stop offset="1" stop-color="#d0c060"/></linearGradient><linearGradient id="h20" x1="0" y1="0" x2="0" y2="1"><stop offset="0" stop-color="#2a2610"/><stop offset="0.22" stop-color="#1a2228"/><stop offset="0.34" stop-color="#142238"/><stop offset="0.45" stop-color="#0e2250"/><stop offset="0.6" stop-color="#10285a"/><stop offset="0.72" stop-color="#1a3c78"/><stop offset="0.8" stop-color="#b0a860"/><stop offset="1" stop-color="#a89848"/></linearGradient><linearGradient id="so0" x1="0" y1="0" x2="0" y2="1"><stop offset="0" stop-color="#5e6424"/><stop offset="0.22" stop-color="#565a1e"/><stop offset="0.34" stop-color="#5a501c"/><stop offset="0.45" stop-color="#7a6c20"/><stop offset="0.6" stop-color="#907e24"/><stop offset="0.72" stop-color="#a89830"/><stop offset="0.8" stop-color="#c8b850"/><stop offset="1" stop-color="#c0b048"/></linearGradient><linearGradient id="sm0" x1="0" y1="0" x2="0" y2="1"><stop offset="0" stop-color="#2c3614"/><stop offset="0.22" stop-color="#283016"/><stop offset="0.34" stop-color="#222430"/><stop offset="0.45" stop-color="#202640"/><stop offset="0.6" stop-color="#283050"/><stop offset="0.72" stop-color="#505850"/><stop offset="0.8" stop-color="#a8a058"/><stop offset="1" stop-color="#a89848"/></linearGradient><linearGradient id="sd0" x1="0" y1="0" x2="0" y2="1"><stop offset="0" stop-color="#2a2610"/><stop offset="0.22" stop-color="#1e1c14"/><stop offset="0.34" stop-color="#101638"/><stop offset="0.45" stop-color="#0c1650"/><stop offset="0.6" stop-color="#12205e"/><stop offset="0.72" stop-color="#1e3070"/><stop offset="0.8" stop-color="#8a8458"/><stop offset="1" stop-color="#908038"/></linearGradient><linearGradient id="gbgc0" x1="0" y1="0" x2="0" y2="1"><stop offset="0" stop-color="#423b15"/><stop offset="0.22" stop-color="#1e293c"/><stop offset="0.34" stop-color="#172b64"/><stop offset="0.45" stop-color="#1d70da"/><stop offset="0.6" stop-color="#2886ec"/><stop offset="0.72" stop-color="#41a2f0"/><stop offset="0.8" stop-color="#dcead0"/><stop offset="1" stop-color="#f0ecb8"/></linearGradient><linearGradient id="gcgg0" x1="0" y1="0" x2="0" y2="1"><stop offset="0" stop-color="#524917"/><stop offset="0.22" stop-color="#2d3a37"/><stop offset="0.34" stop-color="#234a6c"/><stop offset="0.45" stop-color="#42a8b2"/><stop offset="0.6" stop-color="#5fbeb0"/><stop offset="0.72" stop-color="#84d2b0"/><stop offset="0.8" stop-color="#f8fae0"/><stop offset="1" stop-color="#fcf8d8"/></linearGradient><linearGradient id="gggy0" x1="0" y1="0" x2="0" y2="1"><stop offset="0" stop-color="#6a5d1c"/><stop offset="0.22" stop-color="#525223"/><stop offset="0.34" stop-color="#5b6a42"/><stop offset="0.45" stop-color="#a1bc58"/><stop offset="0.6" stop-color="#becc54"/><stop offset="0.72" stop-color="#d6d95c"/><stop offset="0.8" stop-color="#faf4b8"/><stop offset="1" stop-color="#f8f0bc"/></linearGradient><linearGradient id="gyh10" x1="0" y1="0" x2="0" y2="1"><stop offset="0" stop-color="#6a5d1c"/><stop offset="0.22" stop-color="#524d1c"/><stop offset="0.34" stop-color="#625d22"/><stop offset="0.45" stop-color="#7b8541"/><stop offset="0.6" stop-color="#82934e"/><stop offset="0.72" stop-color="#93b064"/><stop offset="0.8" stop-color="#e6da78"/><stop offset="1" stop-color="#e0d278"/></linearGradient><linearGradient id="h1h20" x1="0" y1="0" x2="0" y2="1"><stop offset="0" stop-color="#423b14"/><stop offset="0.22" stop-color="#2a2e20"/><stop offset="0.34" stop-color="#27312c"/><stop offset="0.45" stop-color="#163651"/><stop offset="0.6" stop-color="#18415f"/><stop offset="0.72" stop-color="#2a637c"/><stop offset="0.8" stop-color="#c4ba68"/><stop offset="1" stop-color="#bcac54"/></linearGradient><linearGradient id="gb1" x1="0" y1="0" x2="0" y2="1"><stop offset="0" stop-color="#3a3414"/><stop offset="0.22" stop-color="#1c2234"/><stop offset="0.34" stop-color="#131c50"/><stop offset="0.45" stop-color="#224cce"/><stop offset="0.6" stop-color="#4a79e6"/><stop offset="0.72" stop-color="#6698e6"/><stop offset="0.8" stop-color="#d1e1c6"/><stop offset="1" stop-color="#e4de9e"/></linearGradient><linearGradient id="gc1" x1="0" y1="0" x2="0" y2="1"><stop offset="0" stop-color="#4a4216"/><stop offset="0.22" stop-color="#1f2f4c"/><stop offset="0.34" stop-color="#1a3e7e"/><stop offset="0.45" stop-color="#249ce3"/><stop offset="0.6" stop-color="#52c0ee"/><stop offset="0.72" stop-color="#75d4ec"/><stop offset="0.8" stop-color="#f2f4ce"/><stop offset="1" stop-color="#f4eebc"/></linearGradient><linearGradient id="gg1" x1="0" y1="0" x2="0" y2="1"><stop offset="0" stop-color="#5a5018"/><stop offset="0.22" stop-color="#36422c"/><stop offset="0.34" stop-color="#305e64"/><stop offset="0.45" stop-color="#7ac084"/><stop offset="0.6" stop-color="#b2d990"/><stop offset="0.72" stop-color="#d0e590"/><stop offset="0.8" stop-color="#fefdec"/><stop offset="1" stop-color="#fbf7da"/></linearGradient><linearGradient id="gy1" x1="0" y1="0" x2="0" y2="1"><stop offset="0" stop-color="#7a6a20"/><stop offset="0.22" stop-color="#625920"/><stop offset="0.34" stop-color="#8a7c27"/><stop offset="0.45" stop-color="#dcc63c"/><stop offset="0.6" stop-color="#e9d556"/><stop offset="0.72" stop-color="#eedb5e"/><stop offset="0.8" stop-color="#f2e686"/><stop offset="1" stop-color="#ecdf88"/></linearGradient><linearGradient id="h11" x1="0" y1="0" x2="0" y2="1"><stop offset="0" stop-color="#5a5018"/><stop offset="0.22" stop-color="#383818"/><stop offset="0.34" stop-color="#404420"/><stop offset="0.45" stop-color="#3e5e4e"/><stop offset="0.6" stop-color="#4e766b"/><stop offset="0.72" stop-color="#5e9678"/><stop offset="0.8" stop-color="#d2c56c"/><stop offset="1" stop-color="#caba5c"/></linearGradient><linearGradient id="h21" x1="0" y1="0" x2="0" y2="1"><stop offset="0" stop-color="#2a2610"/><stop offset="0.22" stop-color="#161f2e"/><stop offset="0.34" stop-color="#12203c"/><stop offset="0.45" stop-color="#122450"/><stop offset="0.6" stop-color="#34445c"/><stop offset="0.72" stop-color="#3e536e"/><stop offset="0.8" stop-color="#aca25a"/><stop offset="1" stop-color="#a49446"/></linearGradient><linearGradient id="so1" x1="0" y1="0" x2="0" y2="1"><stop offset="0" stop-color="#5e6424"/><stop offset="0.22" stop-color="#565a1e"/><stop offset="0.34" stop-color="#5a501c"/><stop offset="0.45" stop-color="#7e7022"/><stop offset="0.6" stop-color="#9c8a2f"/><stop offset="0.72" stop-color="#b0a03a"/><stop offset="0.8" stop-color="#c6b650"/><stop offset="1" stop-color="#beae48"/></linearGradient><linearGradient id="sm1" x1="0" y1="0" x2="0" y2="1"><stop offset="0" stop-color="#2c3614"/><stop offset="0.22" stop-color="#283016"/><stop offset="0.34" stop-color="#222430"/><stop offset="0.45" stop-color="#242a40"/><stop offset="0.6" stop-color="#424650"/><stop offset="0.72" stop-color="#646852"/><stop offset="0.8" stop-color="#a69c54"/><stop offset="1" stop-color="#a49446"/></linearGradient><linearGradient id="sd1" x1="0" y1="0" x2="0" y2="1"><stop offset="0" stop-color="#2a2610"/><stop offset="0.22" stop-color="#1e1c14"/><stop offset="0.34" stop-color="#101638"/><stop offset="0.45" stop-color="#0e184e"/><stop offset="0.6" stop-color="#2e365a"/><stop offset="0.72" stop-color="#39456a"/><stop offset="0.8" stop-color="#8c8352"/><stop offset="1" stop-color="#8e7e38"/></linearGradient><linearGradient id="gbgc1" x1="0" y1="0" x2="0" y2="1"><stop offset="0" stop-color="#423b15"/><stop offset="0.22" stop-color="#1e2840"/><stop offset="0.34" stop-color="#162d67"/><stop offset="0.45" stop-color="#2374d8"/><stop offset="0.6" stop-color="#4e9cea"/><stop offset="0.72" stop-color="#6eb6e9"/><stop offset="0.8" stop-color="#e2eaca"/><stop offset="1" stop-color="#ece6ad"/></linearGradient><linearGradient id="gcgg1" x1="0" y1="0" x2="0" y2="1"><stop offset="0" stop-color="#524917"/><stop offset="0.22" stop-color="#2a383c"/><stop offset="0.34" stop-color="#254e71"/><stop offset="0.45" stop-color="#4faeb4"/><stop offset="0.6" stop-color="#82ccbf"/><stop offset="0.72" stop-color="#a2dcbe"/><stop offset="0.8" stop-color="#f8f8dd"/><stop offset="1" stop-color="#f8f2cb"/></linearGradient><linearGradient id="gggy1" x1="0" y1="0" x2="0" y2="1"><stop offset="0" stop-color="#6a5d1c"/><stop offset="0.22" stop-color="#4c4e26"/><stop offset="0.34" stop-color="#5d6d46"/><stop offset="0.45" stop-color="#abc360"/><stop offset="0.6" stop-color="#ced773"/><stop offset="0.72" stop-color="#dfe077"/><stop offset="0.8" stop-color="#f8f2b9"/><stop offset="1" stop-color="#f4ebb1"/></linearGradient><linearGradient id="gyh11" x1="0" y1="0" x2="0" y2="1"><stop offset="0" stop-color="#6a5d1c"/><stop offset="0.22" stop-color="#4d481c"/><stop offset="0.34" stop-color="#656024"/><stop offset="0.45" stop-color="#8d9245"/><stop offset="0.6" stop-color="#9ca660"/><stop offset="0.72" stop-color="#a6b86b"/><stop offset="0.8" stop-color="#e2d679"/><stop offset="1" stop-color="#dbcc72"/></linearGradient><linearGradient id="h1h21" x1="0" y1="0" x2="0" y2="1"><stop offset="0" stop-color="#423b14"/><stop offset="0.22" stop-color="#272c23"/><stop offset="0.34" stop-color="#29322e"/><stop offset="0.45" stop-color="#28414f"/><stop offset="0.6" stop-color="#415d64"/><stop offset="0.72" stop-color="#4e7473"/><stop offset="0.8" stop-color="#bfb463"/><stop offset="1" stop-color="#b7a751"/></linearGradient><linearGradient id="gb2" x1="0" y1="0" x2="0" y2="1"><stop offset="0" stop-color="#3a3414"/><stop offset="0.22" stop-color="#1b2138"/><stop offset="0.34" stop-color="#121b50"/><stop offset="0.45" stop-color="#2550cc"/><stop offset="0.6" stop-color="#6996e4"/><stop offset="0.72" stop-color="#91b4dc"/><stop offset="0.8" stop-color="#dae2bc"/><stop offset="1" stop-color="#e0d894"/></linearGradient><linearGradient id="gc2" x1="0" y1="0" x2="0" y2="1"><stop offset="0" stop-color="#4a4216"/><stop offset="0.22" stop-color="#1e2e50"/><stop offset="0.34" stop-color="#1a4284"/><stop offset="0.45" stop-color="#2da0e2"/><stop offset="0.6" stop-color="#7fd0ec"/><stop offset="0.72" stop-color="#a2e1e8"/><stop offset="0.8" stop-color="#f4f4cc"/><stop offset="1" stop-color="#f0e8b0"/></linearGradient><linearGradient id="gg2" x1="0" y1="0" x2="0" y2="1"><stop offset="0" stop-color="#5a5018"/><stop offset="0.22" stop-color="#323f33"/><stop offset="0.34" stop-color="#336268"/><stop offset="0.45" stop-color="#89c888"/><stop offset="0.6" stop-color="#cce6b0"/><stop offset="0.72" stop-color="#e0eeb0"/><stop offset="0.8" stop-color="#fefce8"/><stop offset="1" stop-color="#f8f2cc"/></linearGradient><linearGradient id="gy2" x1="0" y1="0" x2="0" y2="1"><stop offset="0" stop-color="#7a6a20"/><stop offset="0.22" stop-color="#5a5220"/><stop offset="0.34" stop-color="#8a7d2a"/><stop offset="0.45" stop-color="#e0cc48"/><stop offset="0.6" stop-color="#eede74"/><stop offset="0.72" stop-color="#f0e074"/><stop offset="0.8" stop-color="#f0e48c"/><stop offset="1" stop-color="#e8da80"/></linearGradient><linearGradient id="h12" x1="0" y1="0" x2="0" y2="1"><stop offset="0" stop-color="#5a5018"/><stop offset="0.22" stop-color="#353519"/><stop offset="0.34" stop-color="#454820"/><stop offset="0.45" stop-color="#5f7149"/><stop offset="0.6" stop-color="#7c9372"/><stop offset="0.72" stop-color="#81a170"/><stop offset="0.8" stop-color="#ccbe68"/><stop offset="1" stop-color="#c4b458"/></linearGradient><linearGradient id="h22" x1="0" y1="0" x2="0" y2="1"><stop offset="0" stop-color="#2a2610"/><stop offset="0.22" stop-color="#131c34"/><stop offset="0.34" stop-color="#101d40"/><stop offset="0.45" stop-color="#172650"/><stop offset="0.6" stop-color="#58605d"/><stop offset="0.72" stop-color="#616a64"/><stop offset="0.8" stop-color="#a89c54"/><stop offset="1" stop-color="#a19144"/></linearGradient><linearGradient id="so2" x1="0" y1="0" x2="0" y2="1"><stop offset="0" stop-color="#5e6424"/><stop offset="0.22" stop-color="#565a1e"/><stop offset="0.34" stop-color="#5a501c"/><stop offset="0.45" stop-color="#827424"/><stop offset="0.6" stop-color="#a8973a"/><stop offset="0.72" stop-color="#b8a844"/><stop offset="0.8" stop-color="#c4b450"/><stop offset="1" stop-color="#bcac48"/></linearGradient><linearGradient id="sm2" x1="0" y1="0" x2="0" y2="1"><stop offset="0" stop-color="#2c3614"/><stop offset="0.22" stop-color="#283016"/><stop offset="0.34" stop-color="#222430"/><stop offset="0.45" stop-color="#282d40"/><stop offset="0.6" stop-color="#5c5c50"/><stop offset="0.72" stop-color="#787854"/><stop offset="0.8" stop-color="#a49850"/><stop offset="1" stop-color="#a19144"/></linearGradient><linearGradient id="sd2" x1="0" y1="0" x2="0" y2="1"><stop offset="0" stop-color="#2a2610"/><stop offset="0.22" stop-color="#1e1c14"/><stop offset="0.34" stop-color="#101638"/><stop offset="0.45" stop-color="#10194c"/><stop offset="0.6" stop-color="#494d57"/><stop offset="0.72" stop-color="#545a64"/><stop offset="0.8" stop-color="#8d824c"/><stop offset="1" stop-color="#8d7d38"/></linearGradient><linearGradient id="gbgc2" x1="0" y1="0" x2="0" y2="1"><stop offset="0" stop-color="#423b15"/><stop offset="0.22" stop-color="#1c2844"/><stop offset="0.34" stop-color="#162e6a"/><stop offset="0.45" stop-color="#2978d7"/><stop offset="0.6" stop-color="#74b3e8"/><stop offset="0.72" stop-color="#9acae2"/><stop offset="0.8" stop-color="#e7ebc4"/><stop offset="1" stop-color="#e8e0a2"/></linearGradient><linearGradient id="gcgg2" x1="0" y1="0" x2="0" y2="1"><stop offset="0" stop-color="#524917"/><stop offset="0.22" stop-color="#283642"/><stop offset="0.34" stop-color="#265276"/><stop offset="0.45" stop-color="#5bb4b5"/><stop offset="0.6" stop-color="#a6dbce"/><stop offset="0.72" stop-color="#c1e8cc"/><stop offset="0.8" stop-color="#f9f8da"/><stop offset="1" stop-color="#f4edbe"/></linearGradient><linearGradient id="gggy2" x1="0" y1="0" x2="0" y2="1"><stop offset="0" stop-color="#6a5d1c"/><stop offset="0.22" stop-color="#46482a"/><stop offset="0.34" stop-color="#5e7049"/><stop offset="0.45" stop-color="#b4ca68"/><stop offset="0.6" stop-color="#dde292"/><stop offset="0.72" stop-color="#e8e792"/><stop offset="0.8" stop-color="#f7f0ba"/><stop offset="1" stop-color="#f0e6a6"/></linearGradient><linearGradient id="gyh12" x1="0" y1="0" x2="0" y2="1"><stop offset="0" stop-color="#6a5d1c"/><stop offset="0.22" stop-color="#48441c"/><stop offset="0.34" stop-color="#686225"/><stop offset="0.45" stop-color="#a09e48"/><stop offset="0.6" stop-color="#b5b873"/><stop offset="0.72" stop-color="#b8c072"/><stop offset="0.8" stop-color="#ded17a"/><stop offset="1" stop-color="#d6c76c"/></linearGradient><linearGradient id="h1h22" x1="0" y1="0" x2="0" y2="1"><stop offset="0" stop-color="#423b14"/><stop offset="0.22" stop-color="#242826"/><stop offset="0.34" stop-color="#2a3230"/><stop offset="0.45" stop-color="#3b4c4c"/><stop offset="0.6" stop-color="#6a7a68"/><stop offset="0.72" stop-color="#71866a"/><stop offset="0.8" stop-color="#baad5e"/><stop offset="1" stop-color="#b2a24e"/></linearGradient><linearGradient id="gb3" x1="0" y1="0" x2="0" y2="1"><stop offset="0" stop-color="#3a3414"/><stop offset="0.22" stop-color="#1a203c"/><stop offset="0.34" stop-color="#111a50"/><stop offset="0.45" stop-color="#2854ca"/><stop offset="0.6" stop-color="#88b3e2"/><stop offset="0.72" stop-color="#bcd0d2"/><stop offset="0.8" stop-color="#e3e3b2"/><stop offset="1" stop-color="#dcd28a"/></linearGradient><linearGradient id="gc3" x1="0" y1="0" x2="0" y2="1"><stop offset="0" stop-color="#4a4216"/><stop offset="0.22" stop-color="#1d2d54"/><stop offset="0.34" stop-color="#1a468a"/><stop offset="0.45" stop-color="#36a4e1"/><stop offset="0.6" stop-color="#ace0ea"/><stop offset="0.72" stop-color="#cfeee4"/><stop offset="0.8" stop-color="#f6f4ca"/><stop offset="1" stop-color="#ece2a4"/></linearGradient><linearGradient id="gg3" x1="0" y1="0" x2="0" y2="1"><stop offset="0" stop-color="#5a5018"/><stop offset="0.22" stop-color="#2e3c3a"/><stop offset="0.34" stop-color="#36666c"/><stop offset="0.45" stop-color="#98d08c"/><stop offset="0.6" stop-color="#e5f2d0"/><stop offset="0.72" stop-color="#eff6d0"/><stop offset="0.8" stop-color="#fdfae4"/><stop offset="1" stop-color="#f4edbe"/></linearGradient><linearGradient id="gy3" x1="0" y1="0" x2="0" y2="1"><stop offset="0" stop-color="#7a6a20"/><stop offset="0.22" stop-color="#524b20"/><stop offset="0.34" stop-color="#8a7e2d"/><stop offset="0.45" stop-color="#e4d254"/><stop offset="0.6" stop-color="#f3e792"/><stop offset="0.72" stop-color="#f2e58a"/><stop offset="0.8" stop-color="#eee292"/><stop offset="1" stop-color="#e4d578"/></linearGradient><linearGradient id="h13" x1="0" y1="0" x2="0" y2="1"><stop offset="0" stop-color="#5a5018"/><stop offset="0.22" stop-color="#32321a"/><stop offset="0.34" stop-color="#4a4c20"/><stop offset="0.45" stop-color="#808444"/><stop offset="0.6" stop-color="#aab079"/><stop offset="0.72" stop-color="#a4ac68"/><stop offset="0.8" stop-color="#c6b764"/><stop offset="1" stop-color="#beae54"/></linearGradient><linearGradient id="h23" x1="0" y1="0" x2="0" y2="1"><stop offset="0" stop-color="#2a2610"/><stop offset="0.22" stop-color="#10193a"/><stop offset="0.34" stop-color="#0e1a44"/><stop offset="0.45" stop-color="#1c2850"/><stop offset="0.6" stop-color="#7c7c5e"/><stop offset="0.72" stop-color="#84815a"/><stop offset="0.8" stop-color="#a4964e"/><stop offset="1" stop-color="#9e8e42"/></linearGradient><linearGradient id="so3" x1="0" y1="0" x2="0" y2="1"><stop offset="0" stop-color="#5e6424"/><stop offset="0.22" stop-color="#565a1e"/><stop offset="0.34" stop-color="#5a501c"/><stop offset="0.45" stop-color="#867826"/><stop offset="0.6" stop-color="#b4a445"/><stop offset="0.72" stop-color="#c0b04e"/><stop offset="0.8" stop-color="#c2b250"/><stop offset="1" stop-color="#baaa48"/></linearGradient><linearGradient id="sm3" x1="0" y1="0" x2="0" y2="1"><stop offset="0" stop-color="#2c3614"/><stop offset="0.22" stop-color="#283016"/><stop offset="0.34" stop-color="#222430"/><stop offset="0.45" stop-color="#2c3040"/><stop offset="0.6" stop-color="#767250"/><stop offset="0.72" stop-color="#8c8856"/><stop offset="0.8" stop-color="#a2944c"/><stop offset="1" stop-color="#9e8e42"/></linearGradient><linearGradient id="sd3" x1="0" y1="0" x2="0" y2="1"><stop offset="0" stop-color="#2a2610"/><stop offset="0.22" stop-color="#1e1c14"/><stop offset="0.34" stop-color="#101638"/><stop offset="0.45" stop-color="#121a4a"/><stop offset="0.6" stop-color="#646454"/><stop offset="0.72" stop-color="#6f6f5e"/><stop offset="0.8" stop-color="#8e8146"/><stop offset="1" stop-color="#8c7c38"/></linearGradient><linearGradient id="gbgc3" x1="0" y1="0" x2="0" y2="1"><stop offset="0" stop-color="#423b15"/><stop offset="0.22" stop-color="#1c2648"/><stop offset="0.34" stop-color="#16306d"/><stop offset="0.45" stop-color="#2f7cd6"/><stop offset="0.6" stop-color="#9acae6"/><stop offset="0.72" stop-color="#c6dfdb"/><stop offset="0.8" stop-color="#ececbe"/><stop offset="1" stop-color="#e4da97"/></linearGradient><linearGradient id="gcgg3" x1="0" y1="0" x2="0" y2="1"><stop offset="0" stop-color="#524917"/><stop offset="0.22" stop-color="#263447"/><stop offset="0.34" stop-color="#28567b"/><stop offset="0.45" stop-color="#67bab6"/><stop offset="0.6" stop-color="#c8e9dd"/><stop offset="0.72" stop-color="#dff2da"/><stop offset="0.8" stop-color="#faf7d7"/><stop offset="1" stop-color="#f0e8b1"/></linearGradient><linearGradient id="gggy3" x1="0" y1="0" x2="0" y2="1"><stop offset="0" stop-color="#6a5d1c"/><stop offset="0.22" stop-color="#40442d"/><stop offset="0.34" stop-color="#60724c"/><stop offset="0.45" stop-color="#bed170"/><stop offset="0.6" stop-color="#ececb1"/><stop offset="0.72" stop-color="#f0eead"/><stop offset="0.8" stop-color="#f6eebb"/><stop offset="1" stop-color="#ece19b"/></linearGradient><linearGradient id="gyh13" x1="0" y1="0" x2="0" y2="1"><stop offset="0" stop-color="#6a5d1c"/><stop offset="0.22" stop-color="#423e1d"/><stop offset="0.34" stop-color="#6a6526"/><stop offset="0.45" stop-color="#b2ab4c"/><stop offset="0.6" stop-color="#cecc86"/><stop offset="0.72" stop-color="#cbc879"/><stop offset="0.8" stop-color="#dacc7b"/><stop offset="1" stop-color="#d1c266"/></linearGradient><linearGradient id="h1h23" x1="0" y1="0" x2="0" y2="1"><stop offset="0" stop-color="#423b14"/><stop offset="0.22" stop-color="#21262a"/><stop offset="0.34" stop-color="#2c3332"/><stop offset="0.45" stop-color="#4e564a"/><stop offset="0.6" stop-color="#93966c"/><stop offset="0.72" stop-color="#949661"/><stop offset="0.8" stop-color="#b5a659"/><stop offset="1" stop-color="#ae9e4b"/></linearGradient><linearGradient id="gb4" x1="0" y1="0" x2="0" y2="1"><stop offset="0" stop-color="#3a3414"/><stop offset="0.22" stop-color="#1a2040"/><stop offset="0.34" stop-color="#101a50"/><stop offset="0.45" stop-color="#2a58c8"/><stop offset="0.6" stop-color="#a8d0e0"/><stop offset="0.72" stop-color="#e8ecc8"/><stop offset="0.8" stop-color="#ece4a8"/><stop offset="1" stop-color="#d8cc80"/></linearGradient><linearGradient id="gc4" x1="0" y1="0" x2="0" y2="1"><stop offset="0" stop-color="#4a4216"/><stop offset="0.22" stop-color="#1c2c58"/><stop offset="0.34" stop-color="#1a4a90"/><stop offset="0.45" stop-color="#40a8e0"/><stop offset="0.6" stop-color="#d8f0e8"/><stop offset="0.72" stop-color="#fcfae0"/><stop offset="0.8" stop-color="#f8f4c8"/><stop offset="1" stop-color="#e8dc98"/></linearGradient><linearGradient id="gg4" x1="0" y1="0" x2="0" y2="1"><stop offset="0" stop-color="#5a5018"/><stop offset="0.22" stop-color="#2a3a40"/><stop offset="0.34" stop-color="#3a6a70"/><stop offset="0.45" stop-color="#a8d890"/><stop offset="0.6" stop-color="#fffff0"/><stop offset="0.72" stop-color="#fffff0"/><stop offset="0.8" stop-color="#fcf8e0"/><stop offset="1" stop-color="#f0e8b0"/></linearGradient><linearGradient id="gy4" x1="0" y1="0" x2="0" y2="1"><stop offset="0" stop-color="#7a6a20"/><stop offset="0.22" stop-color="#4a4420"/><stop offset="0.34" stop-color="#8a8030"/><stop offset="0.45" stop-color="#e8d860"/><stop offset="0.6" stop-color="#f8f0b0"/><stop offset="0.72" stop-color="#f4eaa0"/><stop offset="0.8" stop-color="#ece098"/><stop offset="1" stop-color="#e0d070"/></linearGradient><linearGradient id="h14" x1="0" y1="0" x2="0" y2="1"><stop offset="0" stop-color="#5a5018"/><stop offset="0.22" stop-color="#30301a"/><stop offset="0.34" stop-color="#505020"/><stop offset="0.45" stop-color="#a09840"/><stop offset="0.6" stop-color="#d8cc80"/><stop offset="0.72" stop-color="#c8b860"/><stop offset="0.8" stop-color="#c0b060"/><stop offset="1" stop-color="#b8a850"/></linearGradient><linearGradient id="h24" x1="0" y1="0" x2="0" y2="1"><stop offset="0" stop-color="#2a2610"/><stop offset="0.22" stop-color="#0c1640"/><stop offset="0.34" stop-color="#0c1848"/><stop offset="0.45" stop-color="#202a50"/><stop offset="0.6" stop-color="#a09860"/><stop offset="0.72" stop-color="#a89850"/><stop offset="0.8" stop-color="#a09048"/><stop offset="1" stop-color="#9a8a40"/></linearGradient><linearGradient id="so4" x1="0" y1="0" x2="0" y2="1"><stop offset="0" stop-color="#5e6424"/><stop offset="0.22" stop-color="#565a1e"/><stop offset="0.34" stop-color="#5a501c"/><stop offset="0.45" stop-color="#8a7c28"/><stop offset="0.6" stop-color="#c0b050"/><stop offset="0.72" stop-color="#c8b858"/><stop offset="0.8" stop-color="#c0b050"/><stop offset="1" stop-color="#b8a848"/></linearGradient><linearGradient id="sm4" x1="0" y1="0" x2="0" y2="1"><stop offset="0" stop-color="#2c3614"/><stop offset="0.22" stop-color="#283016"/><stop offset="0.34" stop-color="#222430"/><stop offset="0.45" stop-color="#303440"/><stop offset="0.6" stop-color="#908850"/><stop offset="0.72" stop-color="#a09858"/><stop offset="0.8" stop-color="#a09048"/><stop offset="1" stop-color="#9a8a40"/></linearGradient><linearGradient id="sd4" x1="0" y1="0" x2="0" y2="1"><stop offset="0" stop-color="#2a2610"/><stop offset="0.22" stop-color="#1e1c14"/><stop offset="0.34" stop-color="#101638"/><stop offset="0.45" stop-color="#141c48"/><stop offset="0.6" stop-color="#807a50"/><stop offset="0.72" stop-color="#8a8458"/><stop offset="0.8" stop-color="#908040"/><stop offset="1" stop-color="#8a7a38"/></linearGradient><linearGradient id="gbgc4" x1="0" y1="0" x2="0" y2="1"><stop offset="0" stop-color="#423b15"/><stop offset="0.22" stop-color="#1b264c"/><stop offset="0.34" stop-color="#153270"/><stop offset="0.45" stop-color="#3580d4"/><stop offset="0.6" stop-color="#c0e0e4"/><stop offset="0.72" stop-color="#f2f3d4"/><stop offset="0.8" stop-color="#f2ecb8"/><stop offset="1" stop-color="#e0d48c"/></linearGradient><linearGradient id="gcgg4" x1="0" y1="0" x2="0" y2="1"><stop offset="0" stop-color="#524917"/><stop offset="0.22" stop-color="#23334c"/><stop offset="0.34" stop-color="#2a5a80"/><stop offset="0.45" stop-color="#74c0b8"/><stop offset="0.6" stop-color="#ecf8ec"/><stop offset="0.72" stop-color="#fefce8"/><stop offset="0.8" stop-color="#faf6d4"/><stop offset="1" stop-color="#ece2a4"/></linearGradient><linearGradient id="gggy4" x1="0" y1="0" x2="0" y2="1"><stop offset="0" stop-color="#6a5d1c"/><stop offset="0.22" stop-color="#3a3f30"/><stop offset="0.34" stop-color="#627550"/><stop offset="0.45" stop-color="#c8d878"/><stop offset="0.6" stop-color="#fcf8d0"/><stop offset="0.72" stop-color="#faf4c8"/><stop offset="0.8" stop-color="#f4ecbc"/><stop offset="1" stop-color="#e8dc90"/></linearGradient><linearGradient id="gyh14" x1="0" y1="0" x2="0" y2="1"><stop offset="0" stop-color="#6a5d1c"/><stop offset="0.22" stop-color="#3d3a1d"/><stop offset="0.34" stop-color="#6d6828"/><stop offset="0.45" stop-color="#c4b850"/><stop offset="0.6" stop-color="#e8de98"/><stop offset="0.72" stop-color="#ded180"/><stop offset="0.8" stop-color="#d6c87c"/><stop offset="1" stop-color="#ccbc60"/></linearGradient><linearGradient id="h1h24" x1="0" y1="0" x2="0" y2="1"><stop offset="0" stop-color="#423b14"/><stop offset="0.22" stop-color="#1e232d"/><stop offset="0.34" stop-color="#2e3434"/><stop offset="0.45" stop-color="#606148"/><stop offset="0.6" stop-color="#bcb270"/><stop offset="0.72" stop-color="#b8a858"/><stop offset="0.8" stop-color="#b0a054"/><stop offset="1" stop-color="#a99948"/></linearGradient><clipPath id="lensclip"><polygon points="911.0,301.0 1000.0,301.0 1008.0,304.0 1080.0,304.0 1086.0,300.0 1092.0,304.0 1160.0,304.0 1166.0,300.0 1172.0,304.0 1215.0,304.0 1221.0,301.0 1227.0,304.0 1265.0,304.0 1271.0,301.0 1280.0,304.0 1300.0,305.0 1350.0,316.0 1400.0,331.0 1460.0,345.0 1520.0,374.0 1560.0,400.0 1590.0,430.0 1610.0,470.0 1620.0,545.0 1566.0,541.0 1555.2,527.0 1537.7,541.0 1526.9,527.0 1509.2,541.0 1498.4,527.0 1480.6,541.0 1469.7,527.0 1451.8,541.0 1440.8,527.0 1422.8,541.0 1411.7,527.0 1393.5,541.0 1382.3,527.0 1363.9,541.0 1352.5,527.0 1333.9,541.0 1322.3,527.0 1303.4,541.0 1291.5,527.0 1272.2,541.0 1260.1,527.0 1240.3,541.0 1227.8,527.0 1207.3,541.0 1194.2,527.0 1172.7,541.0 1158.7,527.0 1135.9,541.0 1120.4,527.0 1095.1,541.0 1076.7,527.0 1046.5,541.0 1015.7,527.0 965.5,541.0 911.0,541.0"/></clipPath><linearGradient id="notchbg" x1="911" y1="0" x2="1600" y2="0" gradientUnits="userSpaceOnUse"><stop offset="0" stop-color="#a8e4f4"/><stop offset="0.45" stop-color="#d8f4fa"/><stop offset="0.7" stop-color="#ffffff"/></linearGradient></defs><polygon points="911,520 1600,520 1600,541 911,541" fill="url(#notchbg)"/><g clip-path="url(#lensclip)"><ellipse cx="931" cy="476.0" rx="669.0" ry="220.8" fill="url(#gb0)"/><ellipse cx="931" cy="475.1" rx="667.1" ry="220.2" fill="url(#gbgc0)"/><ellipse cx="931" cy="474.3" rx="665.5" ry="219.6" fill="url(#gc0)"/><ellipse cx="931" cy="473.3" rx="663.4" ry="218.9" fill="url(#gcgg0)"/><ellipse cx="931" cy="472.5" rx="661.8" ry="218.4" fill="url(#gg0)"/><ellipse cx="931" cy="471.8" rx="660.4" ry="217.9" fill="url(#gggy0)"/><ellipse cx="931" cy="471.2" rx="659.1" ry="217.5" fill="url(#gy0)"/><ellipse cx="931" cy="469.5" rx="655.6" ry="216.3" fill="url(#gyh10)"/><ellipse cx="931" cy="468.6" rx="653.7" ry="215.7" fill="url(#h10)"/><ellipse cx="931" cy="467.6" rx="651.6" ry="215.0" fill="url(#h1h20)"/><ellipse cx="931" cy="466.6" rx="649.7" ry="214.4" fill="url(#h20)"/><ellipse cx="931" cy="463.0" rx="642.2" ry="211.9" fill="url(#so0)"/><ellipse cx="931" cy="468.2" rx="642.2" ry="211.9" fill="url(#sm0)"/><ellipse cx="931" cy="472.1" rx="642.2" ry="211.9" fill="url(#sd0)"/><ellipse cx="931" cy="476.0" rx="642.2" ry="211.9" fill="url(#gb0)"/><ellipse cx="931" cy="475.1" rx="640.3" ry="211.3" fill="url(#gbgc0)"/><ellipse cx="931" cy="474.3" rx="638.7" ry="210.8" fill="url(#gc0)"/><ellipse cx="931" cy="473.3" rx="636.6" ry="210.1" fill="url(#gcgg0)"/><ellipse cx="931" cy="472.5" rx="635.0" ry="209.5" fill="url(#gg0)"/><ellipse cx="931" cy="471.8" rx="633.6" ry="209.1" fill="url(#gggy0)"/><ellipse cx="931" cy="471.2" rx="632.3" ry="208.7" fill="url(#gy0)"/><ellipse cx="931" cy="469.5" rx="628.8" ry="207.5" fill="url(#gyh10)"/><ellipse cx="931" cy="468.6" rx="626.9" ry="206.9" fill="url(#h10)"/><ellipse cx="931" cy="467.6" rx="624.8" ry="206.2" fill="url(#h1h20)"/><ellipse cx="931" cy="466.6" rx="622.9" ry="205.6" fill="url(#h20)"/><ellipse cx="931" cy="463.0" rx="615.4" ry="203.1" fill="url(#so0)"/><ellipse cx="931" cy="468.2" rx="615.4" ry="203.1" fill="url(#sm0)"/><ellipse cx="931" cy="472.1" rx="615.4" ry="203.1" fill="url(#sd0)"/><ellipse cx="931" cy="476.0" rx="615.4" ry="203.1" fill="url(#gb0)"/><ellipse cx="931" cy="475.1" rx="613.5" ry="202.5" fill="url(#gbgc0)"/><ellipse cx="931" cy="474.3" rx="611.9" ry="201.9" fill="url(#gc0)"/><ellipse cx="931" cy="473.3" rx="609.8" ry="201.2" fill="url(#gcgg0)"/><ellipse cx="931" cy="472.5" rx="608.2" ry="200.7" fill="url(#gg0)"/><ellipse cx="931" cy="471.8" rx="606.8" ry="200.3" fill="url(#gggy0)"/><ellipse cx="931" cy="471.2" rx="605.5" ry="199.8" fill="url(#gy0)"/><ellipse cx="931" cy="469.5" rx="602.0" ry="198.7" fill="url(#gyh10)"/><ellipse cx="931" cy="468.6" rx="600.1" ry="198.0" fill="url(#h10)"/><ellipse cx="931" cy="467.6" rx="598.0" ry="197.3" fill="url(#h1h20)"/><ellipse cx="931" cy="466.6" rx="596.1" ry="196.7" fill="url(#h20)"/><ellipse cx="931" cy="463.0" rx="588.6" ry="194.2" fill="url(#so0)"/><ellipse cx="931" cy="468.2" rx="588.6" ry="194.2" fill="url(#sm0)"/><ellipse cx="931" cy="472.1" rx="588.6" ry="194.2" fill="url(#sd0)"/><ellipse cx="931" cy="476.0" rx="588.6" ry="194.2" fill="url(#gb0)"/><ellipse cx="931" cy="475.1" rx="586.7" ry="193.6" fill="url(#gbgc0)"/><ellipse cx="931" cy="474.3" rx="585.1" ry="193.1" fill="url(#gc0)"/><ellipse cx="931" cy="473.3" rx="583.0" ry="192.4" fill="url(#gcgg0)"/><ellipse cx="931" cy="472.5" rx="581.4" ry="191.9" fill="url(#gg0)"/><ellipse cx="931" cy="471.8" rx="580.0" ry="191.4" fill="url(#gggy0)"/><ellipse cx="931" cy="471.2" rx="578.7" ry="191.0" fill="url(#gy0)"/><ellipse cx="931" cy="469.5" rx="575.2" ry="189.8" fill="url(#gyh10)"/><ellipse cx="931" cy="468.6" rx="573.3" ry="189.2" fill="url(#h10)"/><ellipse cx="931" cy="467.6" rx="571.2" ry="188.5" fill="url(#h1h20)"/><ellipse cx="931" cy="466.6" rx="569.3" ry="187.9" fill="url(#h20)"/><ellipse cx="931" cy="463.0" rx="561.8" ry="185.4" fill="url(#so0)"/><ellipse cx="931" cy="468.2" rx="561.8" ry="185.4" fill="url(#sm0)"/><ellipse cx="931" cy="472.1" rx="561.8" ry="185.4" fill="url(#sd0)"/><ellipse cx="931" cy="476.0" rx="561.8" ry="185.4" fill="url(#gb0)"/><ellipse cx="931" cy="475.1" rx="559.9" ry="184.8" fill="url(#gbgc0)"/><ellipse cx="931" cy="474.3" rx="558.3" ry="184.2" fill="url(#gc0)"/><ellipse cx="931" cy="473.3" rx="556.2" ry="183.5" fill="url(#gcgg0)"/><ellipse cx="931" cy="472.5" rx="554.6" ry="183.0" fill="url(#gg0)"/><ellipse cx="931" cy="471.8" rx="553.2" ry="182.6" fill="url(#gggy0)"/><ellipse cx="931" cy="471.2" rx="551.9" ry="182.1" fill="url(#gy0)"/><ellipse cx="931" cy="469.5" rx="548.4" ry="181.0" fill="url(#gyh10)"/><ellipse cx="931" cy="468.6" rx="546.5" ry="180.4" fill="url(#h10)"/><ellipse cx="931" cy="467.6" rx="544.4" ry="179.6" fill="url(#h1h20)"/><ellipse cx="931" cy="466.6" rx="542.5" ry="179.0" fill="url(#h20)"/><ellipse cx="931" cy="463.0" rx="535.0" ry="176.6" fill="url(#so0)"/><ellipse cx="931" cy="468.2" rx="535.0" ry="176.6" fill="url(#sm0)"/><ellipse cx="931" cy="472.1" rx="535.0" ry="176.6" fill="url(#sd0)"/><ellipse cx="931" cy="476.0" rx="535.0" ry="176.6" fill="url(#gb0)"/><ellipse cx="931" cy="475.1" rx="533.1" ry="175.9" fill="url(#gbgc0)"/><ellipse cx="931" cy="474.3" rx="531.5" ry="175.4" fill="url(#gc0)"/><ellipse cx="931" cy="473.3" rx="529.4" ry="174.7" fill="url(#gcgg0)"/><ellipse cx="931" cy="472.5" rx="527.8" ry="174.2" fill="url(#gg0)"/><ellipse cx="931" cy="471.8" rx="526.4" ry="173.7" fill="url(#gggy0)"/><ellipse cx="931" cy="471.2" rx="525.1" ry="173.3" fill="url(#gy0)"/><ellipse cx="931" cy="469.5" rx="521.6" ry="172.1" fill="url(#gyh10)"/><ellipse cx="931" cy="468.6" rx="519.7" ry="171.5" fill="url(#h10)"/><ellipse cx="931" cy="467.6" rx="517.6" ry="170.8" fill="url(#h1h20)"/><ellipse cx="931" cy="466.6" rx="515.7" ry="170.2" fill="url(#h20)"/><ellipse cx="931" cy="463.0" rx="508.2" ry="167.7" fill="url(#so0)"/><ellipse cx="931" cy="468.2" rx="508.2" ry="167.7" fill="url(#sm0)"/><ellipse cx="931" cy="472.1" rx="508.2" ry="167.7" fill="url(#sd0)"/><ellipse cx="931" cy="476.0" rx="508.2" ry="167.7" fill="url(#gb0)"/><ellipse cx="931" cy="475.1" rx="506.3" ry="167.1" fill="url(#gbgc0)"/><ellipse cx="931" cy="474.3" rx="504.7" ry="166.6" fill="url(#gc0)"/><ellipse cx="931" cy="473.3" rx="502.6" ry="165.8" fill="url(#gcgg0)"/><ellipse cx="931" cy="472.5" rx="501.0" ry="165.3" fill="url(#gg0)"/><ellipse cx="931" cy="471.8" rx="499.6" ry="164.9" fill="url(#gggy0)"/><ellipse cx="931" cy="471.2" rx="498.3" ry="164.4" fill="url(#gy0)"/><ellipse cx="931" cy="469.5" rx="494.8" ry="163.3" fill="url(#gyh10)"/><ellipse cx="931" cy="468.6" rx="492.9" ry="162.7" fill="url(#h10)"/><ellipse cx="931" cy="467.6" rx="490.8" ry="162.0" fill="url(#h1h20)"/><ellipse cx="931" cy="466.6" rx="488.9" ry="161.3" fill="url(#h20)"/><ellipse cx="931" cy="463.0" rx="481.4" ry="158.9" fill="url(#so0)"/><ellipse cx="931" cy="468.2" rx="481.4" ry="158.9" fill="url(#sm0)"/><ellipse cx="931" cy="472.1" rx="481.4" ry="158.9" fill="url(#sd0)"/><ellipse cx="931" cy="476.0" rx="481.4" ry="158.9" fill="url(#gb0)"/><ellipse cx="931" cy="475.1" rx="479.5" ry="158.2" fill="url(#gbgc0)"/><ellipse cx="931" cy="474.3" rx="477.9" ry="157.7" fill="url(#gc0)"/><ellipse cx="931" cy="473.3" rx="475.8" ry="157.0" fill="url(#gcgg0)"/><ellipse cx="931" cy="472.5" rx="474.2" ry="156.5" fill="url(#gg0)"/><ellipse cx="931" cy="471.8" rx="472.8" ry="156.0" fill="url(#gggy0)"/><ellipse cx="931" cy="471.2" rx="471.5" ry="155.6" fill="url(#gy0)"/><ellipse cx="931" cy="469.5" rx="468.0" ry="154.4" fill="url(#gyh10)"/><ellipse cx="931" cy="468.6" rx="466.1" ry="153.8" fill="url(#h10)"/><ellipse cx="931" cy="467.6" rx="464.0" ry="153.1" fill="url(#h1h20)"/><ellipse cx="931" cy="466.6" rx="462.1" ry="152.5" fill="url(#h20)"/><ellipse cx="931" cy="463.0" rx="454.6" ry="150.0" fill="url(#so0)"/><ellipse cx="931" cy="468.2" rx="454.6" ry="150.0" fill="url(#sm0)"/><ellipse cx="931" cy="472.1" rx="454.6" ry="150.0" fill="url(#sd0)"/><ellipse cx="931" cy="476.0" rx="454.6" ry="150.0" fill="url(#gb0)"/><ellipse cx="931" cy="475.1" rx="452.7" ry="149.4" fill="url(#gbgc0)"/><ellipse cx="931" cy="474.3" rx="451.1" ry="148.9" fill="url(#gc0)"/><ellipse cx="931" cy="473.3" rx="449.0" ry="148.2" fill="url(#gcgg0)"/><ellipse cx="931" cy="472.5" rx="447.4" ry="147.6" fill="url(#gg0)"/><ellipse cx="931" cy="471.8" rx="446.0" ry="147.2" fill="url(#gggy0)"/><ellipse cx="931" cy="471.2" rx="444.7" ry="146.7" fill="url(#gy0)"/><ellipse cx="931" cy="469.5" rx="441.2" ry="145.6" fill="url(#gyh10)"/><ellipse cx="931" cy="468.6" rx="439.3" ry="145.0" fill="url(#h10)"/><ellipse cx="931" cy="467.6" rx="437.2" ry="144.3" fill="url(#h1h20)"/><ellipse cx="931" cy="466.6" rx="435.3" ry="143.7" fill="url(#h20)"/><ellipse cx="931" cy="463.0" rx="427.8" ry="141.2" fill="url(#so0)"/><ellipse cx="931" cy="468.2" rx="427.8" ry="141.2" fill="url(#sm0)"/><ellipse cx="931" cy="472.1" rx="427.8" ry="141.2" fill="url(#sd0)"/><ellipse cx="931" cy="476.0" rx="427.8" ry="141.2" fill="url(#gb1)"/><ellipse cx="931" cy="475.1" rx="425.9" ry="140.6" fill="url(#gbgc1)"/><ellipse cx="931" cy="474.3" rx="424.3" ry="140.0" fill="url(#gc1)"/><ellipse cx="931" cy="473.3" rx="422.2" ry="139.3" fill="url(#gcgg1)"/><ellipse cx="931" cy="472.5" rx="420.6" ry="138.8" fill="url(#gg1)"/><ellipse cx="931" cy="471.8" rx="419.2" ry="138.3" fill="url(#gggy1)"/><ellipse cx="931" cy="471.2" rx="417.9" ry="137.9" fill="url(#gy1)"/><ellipse cx="931" cy="469.5" rx="414.4" ry="136.8" fill="url(#gyh11)"/><ellipse cx="931" cy="468.6" rx="412.5" ry="136.1" fill="url(#h11)"/><ellipse cx="931" cy="467.6" rx="410.4" ry="135.4" fill="url(#h1h21)"/><ellipse cx="931" cy="466.6" rx="408.5" ry="134.8" fill="url(#h21)"/><ellipse cx="931" cy="463.0" rx="401.0" ry="132.3" fill="url(#so1)"/><ellipse cx="931" cy="468.2" rx="401.0" ry="132.3" fill="url(#sm1)"/><ellipse cx="931" cy="472.1" rx="401.0" ry="132.3" fill="url(#sd1)"/><ellipse cx="931" cy="476.0" rx="401.0" ry="132.3" fill="url(#gb1)"/><ellipse cx="931" cy="475.1" rx="399.1" ry="131.7" fill="url(#gbgc1)"/><ellipse cx="931" cy="474.3" rx="397.5" ry="131.2" fill="url(#gc1)"/><ellipse cx="931" cy="473.3" rx="395.4" ry="130.5" fill="url(#gcgg1)"/><ellipse cx="931" cy="472.5" rx="393.8" ry="129.9" fill="url(#gg1)"/><ellipse cx="931" cy="471.8" rx="392.4" ry="129.5" fill="url(#gggy1)"/><ellipse cx="931" cy="471.2" rx="391.1" ry="129.1" fill="url(#gy1)"/><ellipse cx="931" cy="469.5" rx="387.6" ry="127.9" fill="url(#gyh11)"/><ellipse cx="931" cy="468.6" rx="385.7" ry="127.3" fill="url(#h11)"/><ellipse cx="931" cy="467.6" rx="383.6" ry="126.6" fill="url(#h1h21)"/><ellipse cx="931" cy="466.6" rx="381.7" ry="126.0" fill="url(#h21)"/><ellipse cx="931" cy="463.0" rx="374.2" ry="123.5" fill="url(#so1)"/><ellipse cx="931" cy="468.2" rx="374.2" ry="123.5" fill="url(#sm1)"/><ellipse cx="931" cy="472.1" rx="374.2" ry="123.5" fill="url(#sd1)"/><ellipse cx="931" cy="476.0" rx="374.2" ry="123.5" fill="url(#gb2)"/><ellipse cx="931" cy="475.1" rx="372.3" ry="122.9" fill="url(#gbgc2)"/><ellipse cx="931" cy="474.3" rx="370.7" ry="122.3" fill="url(#gc2)"/><ellipse cx="931" cy="473.3" rx="368.6" ry="121.6" fill="url(#gcgg2)"/><ellipse cx="931" cy="472.5" rx="367.0" ry="121.1" fill="url(#gg2)"/><ellipse cx="931" cy="471.8" rx="365.6" ry="120.7" fill="url(#gggy2)"/><ellipse cx="931" cy="471.2" rx="364.3" ry="120.2" fill="url(#gy2)"/><ellipse cx="931" cy="469.5" rx="360.8" ry="119.1" fill="url(#gyh12)"/><ellipse cx="931" cy="468.6" rx="358.9" ry="118.4" fill="url(#h12)"/><ellipse cx="931" cy="467.6" rx="356.8" ry="117.7" fill="url(#h1h22)"/><ellipse cx="931" cy="466.6" rx="354.9" ry="117.1" fill="url(#h22)"/><ellipse cx="931" cy="463.0" rx="347.4" ry="114.6" fill="url(#so2)"/><ellipse cx="931" cy="468.2" rx="347.4" ry="114.6" fill="url(#sm2)"/><ellipse cx="931" cy="472.1" rx="347.4" ry="114.6" fill="url(#sd2)"/><ellipse cx="931" cy="476.0" rx="347.4" ry="114.6" fill="url(#gb2)"/><ellipse cx="931" cy="475.1" rx="345.5" ry="114.0" fill="url(#gbgc2)"/><ellipse cx="931" cy="474.3" rx="343.9" ry="113.5" fill="url(#gc2)"/><ellipse cx="931" cy="473.3" rx="341.8" ry="112.8" fill="url(#gcgg2)"/><ellipse cx="931" cy="472.5" rx="340.2" ry="112.3" fill="url(#gg2)"/><ellipse cx="931" cy="471.8" rx="338.8" ry="111.8" fill="url(#gggy2)"/><ellipse cx="931" cy="471.2" rx="337.5" ry="111.4" fill="url(#gy2)"/><ellipse cx="931" cy="469.5" rx="334.0" ry="110.2" fill="url(#gyh12)"/><ellipse cx="931" cy="468.6" rx="332.1" ry="109.6" fill="url(#h12)"/><ellipse cx="931" cy="467.6" rx="330.0" ry="108.9" fill="url(#h1h22)"/><ellipse cx="931" cy="466.6" rx="328.1" ry="108.3" fill="url(#h22)"/><ellipse cx="931" cy="463.0" rx="320.6" ry="105.8" fill="url(#so2)"/><ellipse cx="931" cy="468.2" rx="320.6" ry="105.8" fill="url(#sm2)"/><ellipse cx="931" cy="472.1" rx="320.6" ry="105.8" fill="url(#sd2)"/><ellipse cx="931" cy="476.0" rx="320.6" ry="105.8" fill="url(#gb3)"/><ellipse cx="931" cy="475.1" rx="318.7" ry="105.2" fill="url(#gbgc3)"/><ellipse cx="931" cy="474.3" rx="317.1" ry="104.6" fill="url(#gc3)"/><ellipse cx="931" cy="473.3" rx="315.0" ry="103.9" fill="url(#gcgg3)"/><ellipse cx="931" cy="472.5" rx="313.4" ry="103.4" fill="url(#gg3)"/><ellipse cx="931" cy="471.8" rx="312.0" ry="103.0" fill="url(#gggy3)"/><ellipse cx="931" cy="471.2" rx="310.7" ry="102.5" fill="url(#gy3)"/><ellipse cx="931" cy="469.5" rx="307.2" ry="101.4" fill="url(#gyh13)"/><ellipse cx="931" cy="468.6" rx="305.3" ry="100.8" fill="url(#h13)"/><ellipse cx="931" cy="467.6" rx="303.2" ry="100.0" fill="url(#h1h23)"/><ellipse cx="931" cy="466.6" rx="301.3" ry="99.4" fill="url(#h23)"/><ellipse cx="931" cy="463.0" rx="293.8" ry="97.0" fill="url(#so3)"/><ellipse cx="931" cy="468.2" rx="293.8" ry="97.0" fill="url(#sm3)"/><ellipse cx="931" cy="472.1" rx="293.8" ry="97.0" fill="url(#sd3)"/><ellipse cx="931" cy="476.0" rx="293.8" ry="97.0" fill="url(#gb3)"/><ellipse cx="931" cy="475.1" rx="291.9" ry="96.3" fill="url(#gbgc3)"/><ellipse cx="931" cy="474.3" rx="290.3" ry="95.8" fill="url(#gc3)"/><ellipse cx="931" cy="473.3" rx="288.2" ry="95.1" fill="url(#gcgg3)"/><ellipse cx="931" cy="472.5" rx="286.6" ry="94.6" fill="url(#gg3)"/><ellipse cx="931" cy="471.8" rx="285.2" ry="94.1" fill="url(#gggy3)"/><ellipse cx="931" cy="471.2" rx="283.9" ry="93.7" fill="url(#gy3)"/><ellipse cx="931" cy="469.5" rx="280.4" ry="92.5" fill="url(#gyh13)"/><ellipse cx="931" cy="468.6" rx="278.5" ry="91.9" fill="url(#h13)"/><ellipse cx="931" cy="467.6" rx="276.4" ry="91.2" fill="url(#h1h23)"/><ellipse cx="931" cy="466.6" rx="274.5" ry="90.6" fill="url(#h23)"/><ellipse cx="931" cy="463.0" rx="267.0" ry="88.1" fill="url(#so3)"/><ellipse cx="931" cy="468.2" rx="267.0" ry="88.1" fill="url(#sm3)"/><ellipse cx="931" cy="472.1" rx="267.0" ry="88.1" fill="url(#sd3)"/><ellipse cx="931" cy="476.0" rx="267.0" ry="88.1" fill="url(#gb3)"/><ellipse cx="931" cy="475.1" rx="265.1" ry="87.5" fill="url(#gbgc3)"/><ellipse cx="931" cy="474.3" rx="263.5" ry="87.0" fill="url(#gc3)"/><ellipse cx="931" cy="473.3" rx="261.4" ry="86.3" fill="url(#gcgg3)"/><ellipse cx="931" cy="472.5" rx="259.8" ry="85.7" fill="url(#gg3)"/><ellipse cx="931" cy="471.8" rx="258.4" ry="85.3" fill="url(#gggy3)"/><ellipse cx="931" cy="471.2" rx="257.1" ry="84.8" fill="url(#gy3)"/><ellipse cx="931" cy="469.5" rx="253.6" ry="83.7" fill="url(#gyh13)"/><ellipse cx="931" cy="468.6" rx="251.7" ry="83.1" fill="url(#h13)"/><ellipse cx="931" cy="467.6" rx="249.6" ry="82.4" fill="url(#h1h23)"/><ellipse cx="931" cy="466.6" rx="247.7" ry="81.7" fill="url(#h23)"/><ellipse cx="931" cy="463.0" rx="240.2" ry="79.3" fill="url(#so3)"/><ellipse cx="931" cy="468.2" rx="240.2" ry="79.3" fill="url(#sm3)"/><ellipse cx="931" cy="472.1" rx="240.2" ry="79.3" fill="url(#sd3)"/><ellipse cx="931" cy="476.0" rx="240.2" ry="79.3" fill="url(#gb4)"/><ellipse cx="931" cy="475.1" rx="238.3" ry="78.6" fill="url(#gbgc4)"/><ellipse cx="931" cy="474.3" rx="236.7" ry="78.1" fill="url(#gc4)"/><ellipse cx="931" cy="473.3" rx="234.6" ry="77.4" fill="url(#gcgg4)"/><ellipse cx="931" cy="472.5" rx="233.0" ry="76.9" fill="url(#gg4)"/><ellipse cx="931" cy="471.8" rx="231.6" ry="76.4" fill="url(#gggy4)"/><ellipse cx="931" cy="471.2" rx="230.3" ry="76.0" fill="url(#gy4)"/><ellipse cx="931" cy="469.5" rx="226.8" ry="74.8" fill="url(#gyh14)"/><ellipse cx="931" cy="468.6" rx="224.9" ry="74.2" fill="url(#h14)"/><ellipse cx="931" cy="467.6" rx="222.8" ry="73.5" fill="url(#h1h24)"/><ellipse cx="931" cy="466.6" rx="220.9" ry="72.9" fill="url(#h24)"/><ellipse cx="931" cy="463.0" rx="213.4" ry="70.4" fill="url(#so4)"/><ellipse cx="931" cy="468.2" rx="213.4" ry="70.4" fill="url(#sm4)"/><ellipse cx="931" cy="472.1" rx="213.4" ry="70.4" fill="url(#sd4)"/><ellipse cx="931" cy="476.0" rx="213.4" ry="70.4" fill="url(#gb4)"/><ellipse cx="931" cy="475.1" rx="211.5" ry="69.8" fill="url(#gbgc4)"/><ellipse cx="931" cy="474.3" rx="209.9" ry="69.3" fill="url(#gc4)"/><ellipse cx="931" cy="473.3" rx="207.8" ry="68.6" fill="url(#gcgg4)"/><ellipse cx="931" cy="472.5" rx="206.2" ry="68.0" fill="url(#gg4)"/><ellipse cx="931" cy="471.8" rx="204.8" ry="67.6" fill="url(#gggy4)"/><ellipse cx="931" cy="471.2" rx="203.5" ry="67.1" fill="url(#gy4)"/><ellipse cx="931" cy="469.5" rx="200.0" ry="66.0" fill="url(#gyh14)"/><ellipse cx="931" cy="468.6" rx="198.1" ry="65.4" fill="url(#h14)"/><ellipse cx="931" cy="467.6" rx="196.0" ry="64.7" fill="url(#h1h24)"/><ellipse cx="931" cy="466.6" rx="194.1" ry="64.1" fill="url(#h24)"/><ellipse cx="931" cy="463.0" rx="186.6" ry="61.6" fill="url(#so4)"/><ellipse cx="931" cy="468.2" rx="186.6" ry="61.6" fill="url(#sm4)"/><ellipse cx="931" cy="472.1" rx="186.6" ry="61.6" fill="url(#sd4)"/><ellipse cx="931" cy="476.0" rx="186.6" ry="61.6" fill="url(#gb4)"/><ellipse cx="931" cy="475.1" rx="184.7" ry="61.0" fill="url(#gbgc4)"/><ellipse cx="931" cy="474.3" rx="183.1" ry="60.4" fill="url(#gc4)"/><ellipse cx="931" cy="473.3" rx="181.0" ry="59.7" fill="url(#gcgg4)"/><ellipse cx="931" cy="472.5" rx="179.4" ry="59.2" fill="url(#gg4)"/><ellipse cx="931" cy="471.8" rx="178.0" ry="58.7" fill="url(#gggy4)"/><ellipse cx="931" cy="471.2" rx="176.7" ry="58.3" fill="url(#gy4)"/><ellipse cx="931" cy="469.5" rx="173.2" ry="57.2" fill="url(#gyh14)"/><ellipse cx="931" cy="468.6" rx="171.3" ry="56.5" fill="url(#h14)"/><ellipse cx="931" cy="467.6" rx="169.2" ry="55.8" fill="url(#h1h24)"/><ellipse cx="931" cy="466.6" rx="167.3" ry="55.2" fill="url(#h24)"/><ellipse cx="931" cy="463.0" rx="159.8" ry="52.7" fill="url(#so4)"/><ellipse cx="931" cy="468.2" rx="159.8" ry="52.7" fill="url(#sm4)"/><ellipse cx="931" cy="472.1" rx="159.8" ry="52.7" fill="url(#sd4)"/><ellipse cx="931" cy="476.0" rx="159.8" ry="52.7" fill="url(#gb4)"/><ellipse cx="931" cy="475.1" rx="157.9" ry="52.1" fill="url(#gbgc4)"/><ellipse cx="931" cy="474.3" rx="156.3" ry="51.6" fill="url(#gc4)"/><ellipse cx="931" cy="473.3" rx="154.2" ry="50.9" fill="url(#gcgg4)"/><ellipse cx="931" cy="472.5" rx="152.6" ry="50.3" fill="url(#gg4)"/><ellipse cx="931" cy="471.8" rx="151.2" ry="49.9" fill="url(#gggy4)"/><ellipse cx="931" cy="471.2" rx="149.9" ry="49.5" fill="url(#gy4)"/><ellipse cx="931" cy="469.5" rx="146.4" ry="48.3" fill="url(#gyh14)"/><ellipse cx="931" cy="468.6" rx="144.5" ry="47.7" fill="url(#h14)"/><ellipse cx="931" cy="467.6" rx="142.4" ry="47.0" fill="url(#h1h24)"/><ellipse cx="931" cy="466.6" rx="140.5" ry="46.4" fill="url(#h24)"/><ellipse cx="931" cy="463.0" rx="133.0" ry="43.9" fill="url(#so4)"/><ellipse cx="931" cy="468.2" rx="133.0" ry="43.9" fill="url(#sm4)"/><ellipse cx="931" cy="472.1" rx="133.0" ry="43.9" fill="url(#sd4)"/><ellipse cx="931" cy="476.0" rx="133.0" ry="43.9" fill="url(#gb4)"/><ellipse cx="931" cy="475.1" rx="131.1" ry="43.3" fill="url(#gbgc4)"/><ellipse cx="931" cy="474.3" rx="129.5" ry="42.7" fill="url(#gc4)"/><ellipse cx="931" cy="473.3" rx="127.4" ry="42.0" fill="url(#gcgg4)"/><ellipse cx="931" cy="472.5" rx="125.8" ry="41.5" fill="url(#gg4)"/><ellipse cx="931" cy="471.8" rx="124.4" ry="41.1" fill="url(#gggy4)"/><ellipse cx="931" cy="471.2" rx="123.1" ry="40.6" fill="url(#gy4)"/><ellipse cx="931" cy="469.5" rx="119.6" ry="39.5" fill="url(#gyh14)"/><ellipse cx="931" cy="468.6" rx="117.7" ry="38.8" fill="url(#h14)"/><ellipse cx="931" cy="467.6" rx="115.6" ry="38.1" fill="url(#h1h24)"/><ellipse cx="931" cy="466.6" rx="113.7" ry="37.5" fill="url(#h24)"/><ellipse cx="931" cy="463.0" rx="106.2" ry="35.0" fill="url(#so4)"/><ellipse cx="931" cy="468.2" rx="106.2" ry="35.0" fill="url(#sm4)"/><ellipse cx="931" cy="472.1" rx="106.2" ry="35.0" fill="url(#sd4)"/><ellipse cx="931" cy="476.0" rx="106.2" ry="35.0" fill="url(#gb4)"/><ellipse cx="931" cy="475.1" rx="104.3" ry="34.4" fill="url(#gbgc4)"/><ellipse cx="931" cy="474.3" rx="102.7" ry="33.9" fill="url(#gc4)"/><ellipse cx="931" cy="473.3" rx="100.6" ry="33.2" fill="url(#gcgg4)"/><ellipse cx="931" cy="472.5" rx="99.0" ry="32.7" fill="url(#gg4)"/><ellipse cx="931" cy="471.8" rx="97.6" ry="32.2" fill="url(#gggy4)"/><ellipse cx="931" cy="471.2" rx="96.3" ry="31.8" fill="url(#gy4)"/><ellipse cx="931" cy="469.5" rx="92.8" ry="30.6" fill="url(#gyh14)"/><ellipse cx="931" cy="468.6" rx="90.9" ry="30.0" fill="url(#h14)"/><ellipse cx="931" cy="467.6" rx="88.8" ry="29.3" fill="url(#h1h24)"/><ellipse cx="931" cy="466.6" rx="86.9" ry="28.7" fill="url(#h24)"/><ellipse cx="931" cy="463.0" rx="79.4" ry="26.2" fill="url(#so4)"/><ellipse cx="931" cy="468.2" rx="79.4" ry="26.2" fill="url(#sm4)"/><ellipse cx="931" cy="472.1" rx="79.4" ry="26.2" fill="url(#sd4)"/><ellipse cx="931" cy="476.0" rx="79.4" ry="26.2" fill="url(#gb4)"/><ellipse cx="931" cy="475.1" rx="77.5" ry="25.6" fill="url(#gbgc4)"/><ellipse cx="931" cy="474.3" rx="75.9" ry="25.1" fill="url(#gc4)"/><ellipse cx="931" cy="473.3" rx="73.8" ry="24.3" fill="url(#gcgg4)"/><ellipse cx="931" cy="472.5" rx="72.2" ry="23.8" fill="url(#gg4)"/><ellipse cx="931" cy="471.8" rx="70.8" ry="23.4" fill="url(#gggy4)"/><ellipse cx="931" cy="471.2" rx="69.5" ry="22.9" fill="url(#gy4)"/><ellipse cx="931" cy="469.5" rx="66.0" ry="21.8" fill="url(#gyh14)"/><ellipse cx="931" cy="468.6" rx="64.1" ry="21.2" fill="url(#h14)"/><ellipse cx="931" cy="467.6" rx="62.0" ry="20.5" fill="url(#h1h24)"/><ellipse cx="931" cy="466.6" rx="60.1" ry="19.8" fill="url(#h24)"/><ellipse cx="931" cy="463.0" rx="52.6" ry="17.4" fill="url(#so4)"/><ellipse cx="931" cy="468.2" rx="52.6" ry="17.4" fill="url(#sm4)"/><ellipse cx="931" cy="472.1" rx="52.6" ry="17.4" fill="url(#sd4)"/><ellipse cx="931" cy="476.0" rx="52.6" ry="17.4" fill="url(#gb4)"/><ellipse cx="931" cy="475.1" rx="50.7" ry="16.7" fill="url(#gbgc4)"/><ellipse cx="931" cy="474.3" rx="49.1" ry="16.2" fill="url(#gc4)"/><ellipse cx="931" cy="473.3" rx="47.0" ry="15.5" fill="url(#gcgg4)"/><ellipse cx="931" cy="472.5" rx="45.4" ry="15.0" fill="url(#gg4)"/><ellipse cx="931" cy="471.8" rx="44.0" ry="14.5" fill="url(#gggy4)"/><ellipse cx="931" cy="471.2" rx="42.7" ry="14.1" fill="url(#gy4)"/><ellipse cx="931" cy="469.5" rx="39.2" ry="12.9" fill="url(#gyh14)"/><ellipse cx="931" cy="468.6" rx="37.3" ry="12.3" fill="url(#h14)"/><ellipse cx="931" cy="467.6" rx="35.2" ry="11.6" fill="url(#h1h24)"/><ellipse cx="931" cy="466.6" rx="33.3" ry="11.0" fill="url(#h24)"/><ellipse cx="931" cy="463.0" rx="25.8" ry="8.5" fill="url(#so4)"/><ellipse cx="931" cy="468.2" rx="25.8" ry="8.5" fill="url(#sm4)"/><ellipse cx="931" cy="472.1" rx="25.8" ry="8.5" fill="url(#sd4)"/><ellipse cx="931" cy="476.0" rx="25.8" ry="8.5" fill="url(#gb4)"/><ellipse cx="931" cy="475.1" rx="23.9" ry="7.9" fill="url(#gbgc4)"/><ellipse cx="931" cy="474.3" rx="22.3" ry="7.4" fill="url(#gc4)"/><ellipse cx="931" cy="473.3" rx="20.2" ry="6.7" fill="url(#gcgg4)"/><ellipse cx="931" cy="472.5" rx="18.6" ry="6.1" fill="url(#gg4)"/><ellipse cx="931" cy="471.8" rx="17.2" ry="5.7" fill="url(#gggy4)"/><ellipse cx="931" cy="471.2" rx="15.9" ry="5.2" fill="url(#gy4)"/><ellipse cx="931" cy="469.5" rx="12.4" ry="4.1" fill="url(#gyh14)"/><ellipse cx="931" cy="468.6" rx="10.5" ry="3.5" fill="url(#h14)"/><ellipse cx="931" cy="467.6" rx="8.4" ry="2.8" fill="url(#h1h24)"/><ellipse cx="931" cy="466.6" rx="6.5" ry="2.1" fill="url(#h24)"/></g><defs><linearGradient id="olv" x1="911" y1="0" x2="1010" y2="0" gradientUnits="userSpaceOnUse"><stop offset="0" stop-color="#8a7a26" stop-opacity="0.95"/><stop offset="0.7" stop-color="#8a7a26" stop-opacity="0.85"/><stop offset="1" stop-color="#8a7a26" stop-opacity="0"/></linearGradient><linearGradient id="ff" x1="0" y1="0" x2="0" y2="1"><stop offset="0" stop-color="#2a7a70"/><stop offset="0.5" stop-color="#1a4a98"/><stop offset="1" stop-color="#1a2a90"/></linearGradient></defs><defs><pattern id="ostr" width="10" height="8" patternUnits="userSpaceOnUse"><rect width="10" height="8" fill="#a49436"/><rect y="5" width="10" height="3" fill="#84762a"/></pattern><linearGradient id="fadeg" x1="0" y1="0" x2="1" y2="0"><stop offset="0" stop-color="#fff"/><stop offset="0.55" stop-color="#fff"/><stop offset="1" stop-color="#000"/></linearGradient><mask id="fadem" maskContentUnits="objectBoundingBox"><rect width="1" height="1" fill="url(#fadeg)"/></mask></defs><rect x="911" y="470" width="88" height="52" fill="url(#ostr)" mask="url(#fadem)" opacity="0.9"/><g clip-path="url(#lensclip)"><ellipse cx="922" cy="448" rx="11" ry="6" fill="#f4eec0" opacity="0.75"/></g><polygon points="911,522 1004,522 1039,541 911,541" fill="url(#ff)"/><polygon points="1050,541 1067.5,522 1090,541" fill="url(#ff)"/><line x1="929.8" y1="69.8" x2="930.6" y2="112.4" stroke="#c8203c" stroke-width="2.2"/><line x1="926.5" y1="156.9" x2="932" y2="386" stroke="#e41a1a" stroke-width="2.2"/><line x1="919" y1="232" x2="916.6" y2="536.5" stroke="#ff1010" stroke-width="3.0"/><line x1="937.6" y1="166" x2="945.4" y2="394" stroke="#e41a1a" stroke-width="2.2"/><line x1="944.6" y1="166" x2="949" y2="398" stroke="#c8203c" stroke-width="2.2"/><line x1="974.6" y1="105" x2="984.6" y2="240" stroke="#c8203c" stroke-width="2.2"/><line x1="984.6" y1="240" x2="995" y2="470" stroke="#ff1010" stroke-width="3.2"/><line x1="1003" y1="79" x2="1014.3" y2="162.4" stroke="#c8203c" stroke-width="2.2"/><line x1="993" y1="182.8" x2="1017" y2="463" stroke="#e41a1a" stroke-width="2.2"/><line x1="978.3" y1="201.3" x2="990" y2="470" stroke="#ff1010" stroke-width="2.6"/><line x1="964" y1="260.5" x2="976.3" y2="513.4" stroke="#e41a1a" stroke-width="2.2"/><line x1="1006.9" y1="225.4" x2="1024.4" y2="451.8" stroke="#e41a1a" stroke-width="2.0"/><line x1="1019.8" y1="203" x2="1037.9" y2="467.2" stroke="#e41a1a" stroke-width="2.0"/><line x1="1033.9" y1="206.8" x2="1065" y2="467" stroke="#ff1010" stroke-width="3.4"/><line x1="953" y1="218" x2="960" y2="330" stroke="#e06020" stroke-width="2.0"/><line x1="931.7" y1="121.7" x2="933.1" y2="482.6" stroke="#86f0b4" stroke-width="2.1"/><line x1="966.9" y1="65.4" x2="956.8" y2="300" stroke="#86f0b4" stroke-width="2.1"/><line x1="956.8" y1="300" x2="953" y2="394" stroke="#44ea44" stroke-width="2.1"/><line x1="951.3" y1="134.6" x2="950.2" y2="300" stroke="#44ea44" stroke-width="2.1"/><line x1="915.4" y1="216" x2="919.6" y2="474.9" stroke="#44ea44" stroke-width="2.1"/><line x1="1038.3" y1="162.4" x2="1016.7" y2="417" stroke="#44ea44" stroke-width="2.1"/><line x1="1015.4" y1="193.9" x2="997.4" y2="482.6" stroke="#44ea44" stroke-width="2.6"/><line x1="1025.4" y1="190.2" x2="1003.2" y2="467" stroke="#44ea44" stroke-width="2.1"/><line x1="975.4" y1="236.5" x2="968.6" y2="448" stroke="#44ea44" stroke-width="2.2"/><line x1="985.9" y1="401.7" x2="978.2" y2="513.4" stroke="#44ea44" stroke-width="2.1"/><line x1="1043.7" y1="386" x2="1032" y2="471" stroke="#44ea44" stroke-width="2.2"/><line x1="966.6" y1="390" x2="964.7" y2="455.6" stroke="#44ea44" stroke-width="2.2"/><line x1="1097.4" y1="92" x2="1127" y2="210.5" stroke="#c8203c" stroke-width="2.2"/><line x1="1127" y1="210.5" x2="1143.7" y2="300" stroke="#ff1010" stroke-width="2.6"/><line x1="1143.7" y1="300" x2="1155.6" y2="513.4" stroke="#e41a1a" stroke-width="2.2"/><line x1="1048.1" y1="203" x2="1070.8" y2="405.6" stroke="#e41a1a" stroke-width="2.0"/><line x1="1065.2" y1="197.6" x2="1086.2" y2="290" stroke="#e41a1a" stroke-width="2.2"/><line x1="1086.2" y1="290" x2="1115" y2="521" stroke="#e41a1a" stroke-width="2.2"/><line x1="1069.6" y1="210.6" x2="1095" y2="400" stroke="#c8203c" stroke-width="2.0"/><line x1="1069.6" y1="258.7" x2="1077" y2="300" stroke="#e41a1a" stroke-width="2.0"/><line x1="1103" y1="206.8" x2="1123.3" y2="300" stroke="#e41a1a" stroke-width="2.2"/><line x1="1123.3" y1="300" x2="1140" y2="440" stroke="#e41a1a" stroke-width="2.0"/><line x1="1108.5" y1="264" x2="1117.8" y2="300" stroke="#e41a1a" stroke-width="2.0"/><line x1="1140.7" y1="232.8" x2="1165" y2="400" stroke="#e41a1a" stroke-width="2.0"/><line x1="1148.1" y1="212.4" x2="1181" y2="467" stroke="#c8203c" stroke-width="2.0"/><line x1="1151" y1="247.6" x2="1175" y2="420" stroke="#e41a1a" stroke-width="2.0"/><line x1="1080" y1="192" x2="1061.2" y2="444" stroke="#44ea44" stroke-width="2.1"/><line x1="1062.2" y1="231" x2="1040" y2="424.8" stroke="#44ea44" stroke-width="2.2"/><line x1="1104.8" y1="203" x2="1074.7" y2="463.3" stroke="#2af82a" stroke-width="3.2"/><line x1="1128.9" y1="195.7" x2="1090" y2="444" stroke="#44ea44" stroke-width="2.1"/><line x1="1154.8" y1="186.5" x2="1120.9" y2="517.3" stroke="#44ea44" stroke-width="2.1"/><line x1="1161.5" y1="205" x2="1130" y2="420" stroke="#44ea44" stroke-width="2.2"/><line x1="1179.8" y1="394" x2="1078.5" y2="463.3" stroke="#44ea44" stroke-width="2.1"/><line x1="1209.6" y1="85.4" x2="1265.6" y2="222.5" stroke="#ff1010" stroke-width="3.2"/><line x1="1265.6" y1="222.5" x2="1297.3" y2="300" stroke="#c8203c" stroke-width="2.2"/><line x1="1185.2" y1="241.8" x2="1201" y2="467" stroke="#e41a1a" stroke-width="2.0"/><line x1="1196.5" y1="258.7" x2="1220" y2="506" stroke="#e41a1a" stroke-width="2.0"/><line x1="1206.7" y1="278" x2="1235" y2="480" stroke="#e41a1a" stroke-width="2.0"/><line x1="1296.2" y1="188.5" x2="1347.6" y2="300" stroke="#c8203c" stroke-width="2.2"/><line x1="1297.3" y1="231.6" x2="1325" y2="300" stroke="#c8203c" stroke-width="2.0"/><line x1="1178" y1="290" x2="1195" y2="467" stroke="#e41a1a" stroke-width="2.0"/><line x1="1220" y1="290" x2="1264.4" y2="506" stroke="#e41a1a" stroke-width="2.2"/><line x1="1254.3" y1="225.9" x2="1193" y2="475" stroke="#44ea44" stroke-width="2.1"/><line x1="1295" y1="267.8" x2="1247" y2="444" stroke="#44ea44" stroke-width="2.2"/><line x1="1170" y1="398" x2="1330" y2="290" stroke="#44ea44" stroke-width="2.1"/><line x1="1170" y1="425" x2="1330" y2="313" stroke="#44ea44" stroke-width="2.1"/><line x1="1330" y1="313" x2="1266.4" y2="506" stroke="#44ea44" stroke-width="2.1"/><line x1="1424.7" y1="195.4" x2="1306.8" y2="300" stroke="#44ea44" stroke-width="2.1"/><line x1="1306.8" y1="300" x2="1140" y2="408" stroke="#44ea44" stroke-width="2.1"/><line x1="1450.8" y1="208.5" x2="1354.4" y2="300" stroke="#44ea44" stroke-width="2.1"/><line x1="1354.4" y1="300" x2="1230" y2="420" stroke="#44ea44" stroke-width="2.2"/><line x1="1436" y1="255.4" x2="1386.2" y2="300" stroke="#44ea44" stroke-width="2.2"/><line x1="1386.2" y1="300" x2="1320" y2="344" stroke="#44ea44" stroke-width="2.2"/><line x1="1349.9" y1="256.6" x2="1334" y2="300" stroke="#44ea44" stroke-width="2.2"/><line x1="1353.3" y1="270" x2="1365.8" y2="300" stroke="#c8203c" stroke-width="2.0"/><line x1="1347.6" y1="300" x2="1414" y2="490" stroke="#e41a1a" stroke-width="2.0"/><line x1="1325" y1="300" x2="1364" y2="400" stroke="#c8203c" stroke-width="2.0"/><line x1="1356" y1="280" x2="1400" y2="400" stroke="#e41a1a" stroke-width="2.0"/><line x1="1400" y1="400" x2="1436" y2="456" stroke="#e41a1a" stroke-width="2.0"/><line x1="1364" y1="300" x2="1406" y2="432" stroke="#e41a1a" stroke-width="2.0"/><line x1="1472" y1="324" x2="1424" y2="412" stroke="#44ea44" stroke-width="2.2"/><line x1="1480" y1="348" x2="1420" y2="480" stroke="#44ea44" stroke-width="2.2"/><line x1="1320" y1="440" x2="1352" y2="412" stroke="#44ea44" stroke-width="2.2"/><line x1="1297" y1="300" x2="1340" y2="420" stroke="#e41a1a" stroke-width="2.0"/><line x1="1126" y1="217" x2="1175" y2="437" stroke="#c8203c" stroke-width="2.0"/><line x1="1141" y1="232" x2="1190" y2="428" stroke="#e41a1a" stroke-width="2.0"/><line x1="1147.5" y1="212.7" x2="1196" y2="437" stroke="#c8203c" stroke-width="2.0"/><line x1="1151.7" y1="250.8" x2="1204.6" y2="453.8" stroke="#e41a1a" stroke-width="2.0"/><line x1="1185.6" y1="242.3" x2="1238.4" y2="437" stroke="#c8203c" stroke-width="2.0"/><line x1="1196" y1="259" x2="1247" y2="437" stroke="#e41a1a" stroke-width="2.0"/><line x1="1206.7" y1="278" x2="1251" y2="437" stroke="#c8203c" stroke-width="2.0"/><line x1="1120" y1="284.6" x2="1137" y2="403" stroke="#e41a1a" stroke-width="2.0"/><line x1="1151.7" y1="200" x2="1128.5" y2="390.4" stroke="#44ea44" stroke-width="2.2"/><line x1="1162.3" y1="204" x2="1137" y2="360.7" stroke="#44ea44" stroke-width="2.2"/><line x1="1253" y1="225.4" x2="1204.6" y2="420" stroke="#44ea44" stroke-width="2.2"/><line x1="1260" y1="335" x2="1120" y2="428.4" stroke="#44ea44" stroke-width="2.2"/><line x1="1260" y1="360.7" x2="1145.4" y2="437" stroke="#44ea44" stroke-width="2.2"/><line x1="981" y1="200" x2="993" y2="300" stroke="#ff1010" stroke-width="2.6"/><line x1="987" y1="198" x2="998" y2="300" stroke="#ff1010" stroke-width="2.4"/><line x1="1155" y1="290" x2="1180" y2="400" stroke="#e41a1a" stroke-width="1.8"/><line x1="1162" y1="290" x2="1186" y2="400" stroke="#c8203c" stroke-width="1.8"/><polyline points="911,283 911,545 1661,545 1661,430" stroke="#1a1a1a" stroke-width="1.6" fill="none"/><line x1="890" y1="542.0" x2="911" y2="542.0" stroke="#1a1a1a" stroke-width="1.6" fill="none"/><text x="880.5" y="551.7" text-anchor="end" font-family="Liberation Sans, Arial, sans-serif" font-size="21.5" fill="#222">0</text><line x1="890" y1="478.2" x2="911" y2="478.2" stroke="#1a1a1a" stroke-width="1.6" fill="none"/><text x="880.5" y="487.9" text-anchor="end" font-family="Liberation Sans, Arial, sans-serif" font-size="21.5" fill="#222">5</text><line x1="890" y1="414.5" x2="911" y2="414.5" stroke="#1a1a1a" stroke-width="1.6" fill="none"/><text x="880.5" y="424.2" text-anchor="end" font-family="Liberation Sans, Arial, sans-serif" font-size="21.5" fill="#222">10</text><line x1="890" y1="350.8" x2="911" y2="350.8" stroke="#1a1a1a" stroke-width="1.6" fill="none"/><text x="880.5" y="360.4" text-anchor="end" font-family="Liberation Sans, Arial, sans-serif" font-size="21.5" fill="#222">15</text><line x1="890" y1="287.0" x2="911" y2="287.0" stroke="#1a1a1a" stroke-width="1.6" fill="none"/><text x="880.5" y="296.7" text-anchor="end" font-family="Liberation Sans, Arial, sans-serif" font-size="21.5" fill="#222">20</text><line x1="931.5" y1="545" x2="931.5" y2="564" stroke="#1a1a1a" stroke-width="1.6" fill="none"/><text x="930.0" y="597.2" text-anchor="middle" font-family="Liberation Sans, Arial, sans-serif" font-size="21.5" fill="#222">0</text><line x1="998.5" y1="545" x2="998.5" y2="564" stroke="#1a1a1a" stroke-width="1.6" fill="none"/><text x="997.0" y="597.2" text-anchor="middle" font-family="Liberation Sans, Arial, sans-serif" font-size="21.5" fill="#222">-5</text><line x1="1065.6" y1="545" x2="1065.6" y2="564" stroke="#1a1a1a" stroke-width="1.6" fill="none"/><text x="1064.1" y="597.2" text-anchor="middle" font-family="Liberation Sans, Arial, sans-serif" font-size="21.5" fill="#222">-10</text><line x1="1132.7" y1="545" x2="1132.7" y2="564" stroke="#1a1a1a" stroke-width="1.6" fill="none"/><text x="1131.2" y="597.2" text-anchor="middle" font-family="Liberation Sans, Arial, sans-serif" font-size="21.5" fill="#222">-15</text><line x1="1199.7" y1="545" x2="1199.7" y2="564" stroke="#1a1a1a" stroke-width="1.6" fill="none"/><text x="1198.2" y="597.2" text-anchor="middle" font-family="Liberation Sans, Arial, sans-serif" font-size="21.5" fill="#222">-20</text><line x1="1266.8" y1="545" x2="1266.8" y2="564" stroke="#1a1a1a" stroke-width="1.6" fill="none"/><text x="1265.2" y="597.2" text-anchor="middle" font-family="Liberation Sans, Arial, sans-serif" font-size="21.5" fill="#222">-25</text><line x1="1333.8" y1="545" x2="1333.8" y2="564" stroke="#1a1a1a" stroke-width="1.6" fill="none"/><text x="1332.3" y="597.2" text-anchor="middle" font-family="Liberation Sans, Arial, sans-serif" font-size="21.5" fill="#222">-30</text><line x1="1400.8" y1="545" x2="1400.8" y2="564" stroke="#1a1a1a" stroke-width="1.6" fill="none"/><text x="1399.3" y="597.2" text-anchor="middle" font-family="Liberation Sans, Arial, sans-serif" font-size="21.5" fill="#222">-35</text><line x1="1467.9" y1="545" x2="1467.9" y2="564" stroke="#1a1a1a" stroke-width="1.6" fill="none"/><text x="1466.4" y="597.2" text-anchor="middle" font-family="Liberation Sans, Arial, sans-serif" font-size="21.5" fill="#222">-40</text><line x1="1534.9" y1="545" x2="1534.9" y2="564" stroke="#1a1a1a" stroke-width="1.6" fill="none"/><text x="1533.4" y="597.2" text-anchor="middle" font-family="Liberation Sans, Arial, sans-serif" font-size="21.5" fill="#222">-45</text><line x1="1602.0" y1="545" x2="1602.0" y2="564" stroke="#1a1a1a" stroke-width="1.6" fill="none"/><text x="1600.5" y="597.2" text-anchor="middle" font-family="Liberation Sans, Arial, sans-serif" font-size="21.5" fill="#222">-50</text><text x="877" y="584" text-anchor="middle" letter-spacing="2.7" font-family="Liberation Sans, Arial, sans-serif" font-size="20" fill="#222">(mm)</text><line x1="1661" y1="438" x2="1681" y2="438" stroke="#1a1a1a" stroke-width="1.6" fill="none"/><line x1="1661" y1="478" x2="1681" y2="478" stroke="#1a1a1a" stroke-width="1.6" fill="none"/><line x1="1661" y1="520" x2="1681" y2="520" stroke="#1a1a1a" stroke-width="1.6" fill="none"/><text x="1689.5" y="448" font-family="Liberation Sans, Arial, sans-serif" font-size="21.5" fill="#222">-10</text><text x="1689.5" y="488.8" font-family="Liberation Sans, Arial, sans-serif" font-size="21.5" fill="#222">0</text><text x="1696.5" y="509.5" text-anchor="middle" letter-spacing="2.4" font-family="Liberation Sans, Arial, sans-serif" font-size="18.5" fill="#222">(mm)</text><text x="1689.5" y="530.5" font-family="Liberation Sans, Arial, sans-serif" font-size="21.5" fill="#222">10</text><defs><clipPath id="cc2"><rect x="0" y="0" width="1745" height="662"/></clipPath></defs><g clip-path="url(#cc2)"><defs><clipPath id="bigc"><circle cx="1618" cy="300" r="141"/></clipPath></defs><g clip-path="url(#bigc)"><rect x="1477" y="159" width="282" height="282" fill="#ffffff"/><path d="M1436.5,201.8 C1433.5,266.8 1404.5,331.8 1246.5,431.8 L1096.5,506.8" fill="none" stroke="#0e1870" stroke-width="4.2"/><path d="M1433.6,201.8 C1430.6,266.8 1401.6,331.8 1243.6,431.8 L1093.6,506.8" fill="none" stroke="#111e7e" stroke-width="4.2"/><path d="M1430.8,201.8 C1427.8,266.8 1398.8,331.8 1240.8,431.8 L1090.8,506.8" fill="none" stroke="#14248d" stroke-width="4.2"/><path d="M1427.9,201.8 C1424.9,266.8 1395.9,331.8 1237.9,431.8 L1087.9,506.8" fill="none" stroke="#162b9d" stroke-width="4.2"/><path d="M1425.0,201.8 C1422.0,266.8 1393.0,331.8 1235.0,431.8 L1085.0,506.8" fill="none" stroke="#1732ad" stroke-width="4.2"/><path d="M1422.1,201.8 C1419.1,266.8 1390.1,331.8 1232.1,431.8 L1082.1,506.8" fill="none" stroke="#1939bd" stroke-width="4.2"/><path d="M1419.2,201.8 C1416.2,266.8 1387.2,331.8 1229.2,431.8 L1079.2,506.8" fill="none" stroke="#1b40c6" stroke-width="4.2"/><path d="M1416.4,201.8 C1413.4,266.8 1384.4,331.8 1226.4,431.8 L1076.4,506.8" fill="none" stroke="#1d48c9" stroke-width="4.2"/><path d="M1413.5,201.8 C1410.5,266.8 1381.5,331.8 1223.5,431.8 L1073.5,506.8" fill="none" stroke="#1e50cd" stroke-width="4.2"/><path d="M1410.6,201.8 C1407.6,266.8 1378.6,331.8 1220.6,431.8 L1070.6,506.8" fill="none" stroke="#2059cf" stroke-width="4.2"/><path d="M1407.8,201.8 C1404.8,266.8 1375.8,331.8 1217.8,431.8 L1067.8,506.8" fill="none" stroke="#2469b6" stroke-width="4.2"/><path d="M1404.9,201.8 C1401.9,266.8 1372.9,331.8 1214.9,431.8 L1064.9,506.8" fill="none" stroke="#2c7999" stroke-width="4.2"/><path d="M1402.0,201.8 C1399.0,266.8 1370.0,331.8 1212.0,431.8 L1062.0,506.8" fill="none" stroke="#4b8562" stroke-width="4.2"/><path d="M1399.1,201.8 C1396.1,266.8 1367.1,331.8 1209.1,431.8 L1059.1,506.8" fill="none" stroke="#6e8a3d" stroke-width="4.2"/><path d="M1396.2,201.8 C1393.2,266.8 1364.2,331.8 1206.2,431.8 L1056.2,506.8" fill="none" stroke="#958a28" stroke-width="4.2"/><path d="M1393.4,201.8 C1390.4,266.8 1361.4,331.8 1203.4,431.8 L1053.4,506.8" fill="none" stroke="#a08d25" stroke-width="4.2"/><path d="M1390.5,201.8 C1387.5,266.8 1358.5,331.8 1200.5,431.8 L1050.5,506.8" fill="none" stroke="#a89024" stroke-width="4.2"/><path d="M1482.0,199.2 C1479.0,264.2 1450.0,329.2 1292.0,429.2 L1142.0,504.2" fill="none" stroke="#0e1870" stroke-width="4.2"/><path d="M1479.1,199.2 C1476.1,264.2 1447.1,329.2 1289.1,429.2 L1139.1,504.2" fill="none" stroke="#111e7e" stroke-width="4.2"/><path d="M1476.2,199.2 C1473.2,264.2 1444.2,329.2 1286.2,429.2 L1136.2,504.2" fill="none" stroke="#14248d" stroke-width="4.2"/><path d="M1473.4,199.2 C1470.4,264.2 1441.4,329.2 1283.4,429.2 L1133.4,504.2" fill="none" stroke="#162b9d" stroke-width="4.2"/><path d="M1470.5,199.2 C1467.5,264.2 1438.5,329.2 1280.5,429.2 L1130.5,504.2" fill="none" stroke="#1732ad" stroke-width="4.2"/><path d="M1467.6,199.2 C1464.6,264.2 1435.6,329.2 1277.6,429.2 L1127.6,504.2" fill="none" stroke="#1939bd" stroke-width="4.2"/><path d="M1464.8,199.2 C1461.8,264.2 1432.8,329.2 1274.8,429.2 L1124.8,504.2" fill="none" stroke="#1b40c6" stroke-width="4.2"/><path d="M1461.9,199.2 C1458.9,264.2 1429.9,329.2 1271.9,429.2 L1121.9,504.2" fill="none" stroke="#1d48c9" stroke-width="4.2"/><path d="M1459.0,199.2 C1456.0,264.2 1427.0,329.2 1269.0,429.2 L1119.0,504.2" fill="none" stroke="#1e50cd" stroke-width="4.2"/><path d="M1456.1,199.2 C1453.1,264.2 1424.1,329.2 1266.1,429.2 L1116.1,504.2" fill="none" stroke="#2059cf" stroke-width="4.2"/><path d="M1453.2,199.2 C1450.2,264.2 1421.2,329.2 1263.2,429.2 L1113.2,504.2" fill="none" stroke="#2469b6" stroke-width="4.2"/><path d="M1450.4,199.2 C1447.4,264.2 1418.4,329.2 1260.4,429.2 L1110.4,504.2" fill="none" stroke="#2c7999" stroke-width="4.2"/><path d="M1447.5,199.2 C1444.5,264.2 1415.5,329.2 1257.5,429.2 L1107.5,504.2" fill="none" stroke="#4b8562" stroke-width="4.2"/><path d="M1444.6,199.2 C1441.6,264.2 1412.6,329.2 1254.6,429.2 L1104.6,504.2" fill="none" stroke="#6e8a3d" stroke-width="4.2"/><path d="M1441.8,199.2 C1438.8,264.2 1409.8,329.2 1251.8,429.2 L1101.8,504.2" fill="none" stroke="#958a28" stroke-width="4.2"/><path d="M1438.9,199.2 C1435.9,264.2 1406.9,329.2 1248.9,429.2 L1098.9,504.2" fill="none" stroke="#a08d25" stroke-width="4.2"/><path d="M1436.0,199.2 C1433.0,264.2 1404.0,329.2 1246.0,429.2 L1096.0,504.2" fill="none" stroke="#a89024" stroke-width="4.2"/><path d="M1527.5,196.6 C1524.5,261.6 1495.5,326.6 1337.5,426.6 L1187.5,501.6" fill="none" stroke="#0e1870" stroke-width="4.2"/><path d="M1524.6,196.6 C1521.6,261.6 1492.6,326.6 1334.6,426.6 L1184.6,501.6" fill="none" stroke="#111e7e" stroke-width="4.2"/><path d="M1521.8,196.6 C1518.8,261.6 1489.8,326.6 1331.8,426.6 L1181.8,501.6" fill="none" stroke="#14248d" stroke-width="4.2"/><path d="M1518.9,196.6 C1515.9,261.6 1486.9,326.6 1328.9,426.6 L1178.9,501.6" fill="none" stroke="#162b9d" stroke-width="4.2"/><path d="M1516.0,196.6 C1513.0,261.6 1484.0,326.6 1326.0,426.6 L1176.0,501.6" fill="none" stroke="#1732ad" stroke-width="4.2"/><path d="M1513.1,196.6 C1510.1,261.6 1481.1,326.6 1323.1,426.6 L1173.1,501.6" fill="none" stroke="#1939bd" stroke-width="4.2"/><path d="M1510.2,196.6 C1507.2,261.6 1478.2,326.6 1320.2,426.6 L1170.2,501.6" fill="none" stroke="#1b40c6" stroke-width="4.2"/><path d="M1507.4,196.6 C1504.4,261.6 1475.4,326.6 1317.4,426.6 L1167.4,501.6" fill="none" stroke="#1d48c9" stroke-width="4.2"/><path d="M1504.5,196.6 C1501.5,261.6 1472.5,326.6 1314.5,426.6 L1164.5,501.6" fill="none" stroke="#1e50cd" stroke-width="4.2"/><path d="M1501.6,196.6 C1498.6,261.6 1469.6,326.6 1311.6,426.6 L1161.6,501.6" fill="none" stroke="#2059cf" stroke-width="4.2"/><path d="M1498.8,196.6 C1495.8,261.6 1466.8,326.6 1308.8,426.6 L1158.8,501.6" fill="none" stroke="#2469b6" stroke-width="4.2"/><path d="M1495.9,196.6 C1492.9,261.6 1463.9,326.6 1305.9,426.6 L1155.9,501.6" fill="none" stroke="#2c7999" stroke-width="4.2"/><path d="M1493.0,196.6 C1490.0,261.6 1461.0,326.6 1303.0,426.6 L1153.0,501.6" fill="none" stroke="#4b8562" stroke-width="4.2"/><path d="M1490.1,196.6 C1487.1,261.6 1458.1,326.6 1300.1,426.6 L1150.1,501.6" fill="none" stroke="#6e8a3d" stroke-width="4.2"/><path d="M1487.2,196.6 C1484.2,261.6 1455.2,326.6 1297.2,426.6 L1147.2,501.6" fill="none" stroke="#958a28" stroke-width="4.2"/><path d="M1484.4,196.6 C1481.4,261.6 1452.4,326.6 1294.4,426.6 L1144.4,501.6" fill="none" stroke="#a08d25" stroke-width="4.2"/><path d="M1481.5,196.6 C1478.5,261.6 1449.5,326.6 1291.5,426.6 L1141.5,501.6" fill="none" stroke="#a89024" stroke-width="4.2"/><path d="M1573.0,194.0 C1570.0,259.0 1541.0,324.0 1383.0,424.0 L1233.0,499.0" fill="none" stroke="#0e1870" stroke-width="4.2"/><path d="M1570.1,194.0 C1567.1,259.0 1538.1,324.0 1380.1,424.0 L1230.1,499.0" fill="none" stroke="#111e7e" stroke-width="4.2"/><path d="M1567.2,194.0 C1564.2,259.0 1535.2,324.0 1377.2,424.0 L1227.2,499.0" fill="none" stroke="#14248d" stroke-width="4.2"/><path d="M1564.4,194.0 C1561.4,259.0 1532.4,324.0 1374.4,424.0 L1224.4,499.0" fill="none" stroke="#162b9d" stroke-width="4.2"/><path d="M1561.5,194.0 C1558.5,259.0 1529.5,324.0 1371.5,424.0 L1221.5,499.0" fill="none" stroke="#1732ad" stroke-width="4.2"/><path d="M1558.6,194.0 C1555.6,259.0 1526.6,324.0 1368.6,424.0 L1218.6,499.0" fill="none" stroke="#1939bd" stroke-width="4.2"/><path d="M1555.8,194.0 C1552.8,259.0 1523.8,324.0 1365.8,424.0 L1215.8,499.0" fill="none" stroke="#1b40c6" stroke-width="4.2"/><path d="M1552.9,194.0 C1549.9,259.0 1520.9,324.0 1362.9,424.0 L1212.9,499.0" fill="none" stroke="#1d48c9" stroke-width="4.2"/><path d="M1550.0,194.0 C1547.0,259.0 1518.0,324.0 1360.0,424.0 L1210.0,499.0" fill="none" stroke="#1e50cd" stroke-width="4.2"/><path d="M1547.1,194.0 C1544.1,259.0 1515.1,324.0 1357.1,424.0 L1207.1,499.0" fill="none" stroke="#2059cf" stroke-width="4.2"/><path d="M1544.2,194.0 C1541.2,259.0 1512.2,324.0 1354.2,424.0 L1204.2,499.0" fill="none" stroke="#2469b6" stroke-width="4.2"/><path d="M1541.4,194.0 C1538.4,259.0 1509.4,324.0 1351.4,424.0 L1201.4,499.0" fill="none" stroke="#2c7999" stroke-width="4.2"/><path d="M1538.5,194.0 C1535.5,259.0 1506.5,324.0 1348.5,424.0 L1198.5,499.0" fill="none" stroke="#4b8562" stroke-width="4.2"/><path d="M1535.6,194.0 C1532.6,259.0 1503.6,324.0 1345.6,424.0 L1195.6,499.0" fill="none" stroke="#6e8a3d" stroke-width="4.2"/><path d="M1532.8,194.0 C1529.8,259.0 1500.8,324.0 1342.8,424.0 L1192.8,499.0" fill="none" stroke="#958a28" stroke-width="4.2"/><path d="M1529.9,194.0 C1526.9,259.0 1497.9,324.0 1339.9,424.0 L1189.9,499.0" fill="none" stroke="#a08d25" stroke-width="4.2"/><path d="M1527.0,194.0 C1524.0,259.0 1495.0,324.0 1337.0,424.0 L1187.0,499.0" fill="none" stroke="#a89024" stroke-width="4.2"/><path d="M1618.5,191.4 C1615.5,256.4 1586.5,321.4 1428.5,421.4 L1278.5,496.4" fill="none" stroke="#0e1870" stroke-width="4.2"/><path d="M1615.6,191.4 C1612.6,256.4 1583.6,321.4 1425.6,421.4 L1275.6,496.4" fill="none" stroke="#111e7e" stroke-width="4.2"/><path d="M1612.8,191.4 C1609.8,256.4 1580.8,321.4 1422.8,421.4 L1272.8,496.4" fill="none" stroke="#14248d" stroke-width="4.2"/><path d="M1609.9,191.4 C1606.9,256.4 1577.9,321.4 1419.9,421.4 L1269.9,496.4" fill="none" stroke="#162b9d" stroke-width="4.2"/><path d="M1607.0,191.4 C1604.0,256.4 1575.0,321.4 1417.0,421.4 L1267.0,496.4" fill="none" stroke="#1732ad" stroke-width="4.2"/><path d="M1604.1,191.4 C1601.1,256.4 1572.1,321.4 1414.1,421.4 L1264.1,496.4" fill="none" stroke="#1939bd" stroke-width="4.2"/><path d="M1601.2,191.4 C1598.2,256.4 1569.2,321.4 1411.2,421.4 L1261.2,496.4" fill="none" stroke="#1b40c6" stroke-width="4.2"/><path d="M1598.4,191.4 C1595.4,256.4 1566.4,321.4 1408.4,421.4 L1258.4,496.4" fill="none" stroke="#1d48c9" stroke-width="4.2"/><path d="M1595.5,191.4 C1592.5,256.4 1563.5,321.4 1405.5,421.4 L1255.5,496.4" fill="none" stroke="#1e50cd" stroke-width="4.2"/><path d="M1592.6,191.4 C1589.6,256.4 1560.6,321.4 1402.6,421.4 L1252.6,496.4" fill="none" stroke="#2059cf" stroke-width="4.2"/><path d="M1589.8,191.4 C1586.8,256.4 1557.8,321.4 1399.8,421.4 L1249.8,496.4" fill="none" stroke="#2469b6" stroke-width="4.2"/><path d="M1586.9,191.4 C1583.9,256.4 1554.9,321.4 1396.9,421.4 L1246.9,496.4" fill="none" stroke="#2c7999" stroke-width="4.2"/><path d="M1584.0,191.4 C1581.0,256.4 1552.0,321.4 1394.0,421.4 L1244.0,496.4" fill="none" stroke="#4b8562" stroke-width="4.2"/><path d="M1581.1,191.4 C1578.1,256.4 1549.1,321.4 1391.1,421.4 L1241.1,496.4" fill="none" stroke="#6e8a3d" stroke-width="4.2"/><path d="M1578.2,191.4 C1575.2,256.4 1546.2,321.4 1388.2,421.4 L1238.2,496.4" fill="none" stroke="#958a28" stroke-width="4.2"/><path d="M1575.4,191.4 C1572.4,256.4 1543.4,321.4 1385.4,421.4 L1235.4,496.4" fill="none" stroke="#a08d25" stroke-width="4.2"/><path d="M1572.5,191.4 C1569.5,256.4 1540.5,321.4 1382.5,421.4 L1232.5,496.4" fill="none" stroke="#a89024" stroke-width="4.2"/><path d="M1664.0,188.8 C1661.0,253.8 1632.0,318.8 1474.0,418.8 L1324.0,493.8" fill="none" stroke="#0e1870" stroke-width="4.2"/><path d="M1661.1,188.8 C1658.1,253.8 1629.1,318.8 1471.1,418.8 L1321.1,493.8" fill="none" stroke="#111e7e" stroke-width="4.2"/><path d="M1658.2,188.8 C1655.2,253.8 1626.2,318.8 1468.2,418.8 L1318.2,493.8" fill="none" stroke="#14248d" stroke-width="4.2"/><path d="M1655.4,188.8 C1652.4,253.8 1623.4,318.8 1465.4,418.8 L1315.4,493.8" fill="none" stroke="#162b9d" stroke-width="4.2"/><path d="M1652.5,188.8 C1649.5,253.8 1620.5,318.8 1462.5,418.8 L1312.5,493.8" fill="none" stroke="#1732ad" stroke-width="4.2"/><path d="M1649.6,188.8 C1646.6,253.8 1617.6,318.8 1459.6,418.8 L1309.6,493.8" fill="none" stroke="#1939bd" stroke-width="4.2"/><path d="M1646.8,188.8 C1643.8,253.8 1614.8,318.8 1456.8,418.8 L1306.8,493.8" fill="none" stroke="#1b40c6" stroke-width="4.2"/><path d="M1643.9,188.8 C1640.9,253.8 1611.9,318.8 1453.9,418.8 L1303.9,493.8" fill="none" stroke="#1d48c9" stroke-width="4.2"/><path d="M1641.0,188.8 C1638.0,253.8 1609.0,318.8 1451.0,418.8 L1301.0,493.8" fill="none" stroke="#1e50cd" stroke-width="4.2"/><path d="M1638.1,188.8 C1635.1,253.8 1606.1,318.8 1448.1,418.8 L1298.1,493.8" fill="none" stroke="#2059cf" stroke-width="4.2"/><path d="M1635.2,188.8 C1632.2,253.8 1603.2,318.8 1445.2,418.8 L1295.2,493.8" fill="none" stroke="#2469b6" stroke-width="4.2"/><path d="M1632.4,188.8 C1629.4,253.8 1600.4,318.8 1442.4,418.8 L1292.4,493.8" fill="none" stroke="#2c7999" stroke-width="4.2"/><path d="M1629.5,188.8 C1626.5,253.8 1597.5,318.8 1439.5,418.8 L1289.5,493.8" fill="none" stroke="#4b8562" stroke-width="4.2"/><path d="M1626.6,188.8 C1623.6,253.8 1594.6,318.8 1436.6,418.8 L1286.6,493.8" fill="none" stroke="#6e8a3d" stroke-width="4.2"/><path d="M1623.8,188.8 C1620.8,253.8 1591.8,318.8 1433.8,418.8 L1283.8,493.8" fill="none" stroke="#958a28" stroke-width="4.2"/><path d="M1620.9,188.8 C1617.9,253.8 1588.9,318.8 1430.9,418.8 L1280.9,493.8" fill="none" stroke="#a08d25" stroke-width="4.2"/><path d="M1618.0,188.8 C1615.0,253.8 1586.0,318.8 1428.0,418.8 L1278.0,493.8" fill="none" stroke="#a89024" stroke-width="4.2"/><path d="M1709.5,186.2 C1706.5,251.2 1677.5,316.2 1519.5,416.2 L1369.5,491.2" fill="none" stroke="#0e1870" stroke-width="4.2"/><path d="M1706.6,186.2 C1703.6,251.2 1674.6,316.2 1516.6,416.2 L1366.6,491.2" fill="none" stroke="#111e7e" stroke-width="4.2"/><path d="M1703.8,186.2 C1700.8,251.2 1671.8,316.2 1513.8,416.2 L1363.8,491.2" fill="none" stroke="#14248d" stroke-width="4.2"/><path d="M1700.9,186.2 C1697.9,251.2 1668.9,316.2 1510.9,416.2 L1360.9,491.2" fill="none" stroke="#162b9d" stroke-width="4.2"/><path d="M1698.0,186.2 C1695.0,251.2 1666.0,316.2 1508.0,416.2 L1358.0,491.2" fill="none" stroke="#1732ad" stroke-width="4.2"/><path d="M1695.1,186.2 C1692.1,251.2 1663.1,316.2 1505.1,416.2 L1355.1,491.2" fill="none" stroke="#1939bd" stroke-width="4.2"/><path d="M1692.2,186.2 C1689.2,251.2 1660.2,316.2 1502.2,416.2 L1352.2,491.2" fill="none" stroke="#1b40c6" stroke-width="4.2"/><path d="M1689.4,186.2 C1686.4,251.2 1657.4,316.2 1499.4,416.2 L1349.4,491.2" fill="none" stroke="#1d48c9" stroke-width="4.2"/><path d="M1686.5,186.2 C1683.5,251.2 1654.5,316.2 1496.5,416.2 L1346.5,491.2" fill="none" stroke="#1e50cd" stroke-width="4.2"/><path d="M1683.6,186.2 C1680.6,251.2 1651.6,316.2 1493.6,416.2 L1343.6,491.2" fill="none" stroke="#2059cf" stroke-width="4.2"/><path d="M1680.8,186.2 C1677.8,251.2 1648.8,316.2 1490.8,416.2 L1340.8,491.2" fill="none" stroke="#2469b6" stroke-width="4.2"/><path d="M1677.9,186.2 C1674.9,251.2 1645.9,316.2 1487.9,416.2 L1337.9,491.2" fill="none" stroke="#2c7999" stroke-width="4.2"/><path d="M1675.0,186.2 C1672.0,251.2 1643.0,316.2 1485.0,416.2 L1335.0,491.2" fill="none" stroke="#4b8562" stroke-width="4.2"/><path d="M1672.1,186.2 C1669.1,251.2 1640.1,316.2 1482.1,416.2 L1332.1,491.2" fill="none" stroke="#6e8a3d" stroke-width="4.2"/><path d="M1669.2,186.2 C1666.2,251.2 1637.2,316.2 1479.2,416.2 L1329.2,491.2" fill="none" stroke="#958a28" stroke-width="4.2"/><path d="M1666.4,186.2 C1663.4,251.2 1634.4,316.2 1476.4,416.2 L1326.4,491.2" fill="none" stroke="#a08d25" stroke-width="4.2"/><path d="M1663.5,186.2 C1660.5,251.2 1631.5,316.2 1473.5,416.2 L1323.5,491.2" fill="none" stroke="#a89024" stroke-width="4.2"/><path d="M1755.0,183.6 C1752.0,248.6 1723.0,313.6 1565.0,413.6 L1415.0,488.6" fill="none" stroke="#0e1870" stroke-width="4.2"/><path d="M1752.1,183.6 C1749.1,248.6 1720.1,313.6 1562.1,413.6 L1412.1,488.6" fill="none" stroke="#111e7e" stroke-width="4.2"/><path d="M1749.2,183.6 C1746.2,248.6 1717.2,313.6 1559.2,413.6 L1409.2,488.6" fill="none" stroke="#14248d" stroke-width="4.2"/><path d="M1746.4,183.6 C1743.4,248.6 1714.4,313.6 1556.4,413.6 L1406.4,488.6" fill="none" stroke="#162b9d" stroke-width="4.2"/><path d="M1743.5,183.6 C1740.5,248.6 1711.5,313.6 1553.5,413.6 L1403.5,488.6" fill="none" stroke="#1732ad" stroke-width="4.2"/><path d="M1740.6,183.6 C1737.6,248.6 1708.6,313.6 1550.6,413.6 L1400.6,488.6" fill="none" stroke="#1939bd" stroke-width="4.2"/><path d="M1737.8,183.6 C1734.8,248.6 1705.8,313.6 1547.8,413.6 L1397.8,488.6" fill="none" stroke="#1b40c6" stroke-width="4.2"/><path d="M1734.9,183.6 C1731.9,248.6 1702.9,313.6 1544.9,413.6 L1394.9,488.6" fill="none" stroke="#1d48c9" stroke-width="4.2"/><path d="M1732.0,183.6 C1729.0,248.6 1700.0,313.6 1542.0,413.6 L1392.0,488.6" fill="none" stroke="#1e50cd" stroke-width="4.2"/><path d="M1729.1,183.6 C1726.1,248.6 1697.1,313.6 1539.1,413.6 L1389.1,488.6" fill="none" stroke="#2059cf" stroke-width="4.2"/><path d="M1726.2,183.6 C1723.2,248.6 1694.2,313.6 1536.2,413.6 L1386.2,488.6" fill="none" stroke="#2469b6" stroke-width="4.2"/><path d="M1723.4,183.6 C1720.4,248.6 1691.4,313.6 1533.4,413.6 L1383.4,488.6" fill="none" stroke="#2c7999" stroke-width="4.2"/><path d="M1720.5,183.6 C1717.5,248.6 1688.5,313.6 1530.5,413.6 L1380.5,488.6" fill="none" stroke="#4b8562" stroke-width="4.2"/><path d="M1717.6,183.6 C1714.6,248.6 1685.6,313.6 1527.6,413.6 L1377.6,488.6" fill="none" stroke="#6e8a3d" stroke-width="4.2"/><path d="M1714.8,183.6 C1711.8,248.6 1682.8,313.6 1524.8,413.6 L1374.8,488.6" fill="none" stroke="#958a28" stroke-width="4.2"/><path d="M1711.9,183.6 C1708.9,248.6 1679.9,313.6 1521.9,413.6 L1371.9,488.6" fill="none" stroke="#a08d25" stroke-width="4.2"/><path d="M1709.0,183.6 C1706.0,248.6 1677.0,313.6 1519.0,413.6 L1369.0,488.6" fill="none" stroke="#a89024" stroke-width="4.2"/><path d="M1800.5,181.0 C1797.5,246.0 1768.5,311.0 1610.5,411.0 L1460.5,486.0" fill="none" stroke="#0e1870" stroke-width="4.2"/><path d="M1797.6,181.0 C1794.6,246.0 1765.6,311.0 1607.6,411.0 L1457.6,486.0" fill="none" stroke="#111e7e" stroke-width="4.2"/><path d="M1794.8,181.0 C1791.8,246.0 1762.8,311.0 1604.8,411.0 L1454.8,486.0" fill="none" stroke="#14248d" stroke-width="4.2"/><path d="M1791.9,181.0 C1788.9,246.0 1759.9,311.0 1601.9,411.0 L1451.9,486.0" fill="none" stroke="#162b9d" stroke-width="4.2"/><path d="M1789.0,181.0 C1786.0,246.0 1757.0,311.0 1599.0,411.0 L1449.0,486.0" fill="none" stroke="#1732ad" stroke-width="4.2"/><path d="M1786.1,181.0 C1783.1,246.0 1754.1,311.0 1596.1,411.0 L1446.1,486.0" fill="none" stroke="#1939bd" stroke-width="4.2"/><path d="M1783.2,181.0 C1780.2,246.0 1751.2,311.0 1593.2,411.0 L1443.2,486.0" fill="none" stroke="#1b40c6" stroke-width="4.2"/><path d="M1780.4,181.0 C1777.4,246.0 1748.4,311.0 1590.4,411.0 L1440.4,486.0" fill="none" stroke="#1d48c9" stroke-width="4.2"/><path d="M1777.5,181.0 C1774.5,246.0 1745.5,311.0 1587.5,411.0 L1437.5,486.0" fill="none" stroke="#1e50cd" stroke-width="4.2"/><path d="M1774.6,181.0 C1771.6,246.0 1742.6,311.0 1584.6,411.0 L1434.6,486.0" fill="none" stroke="#2059cf" stroke-width="4.2"/><path d="M1771.8,181.0 C1768.8,246.0 1739.8,311.0 1581.8,411.0 L1431.8,486.0" fill="none" stroke="#2469b6" stroke-width="4.2"/><path d="M1768.9,181.0 C1765.9,246.0 1736.9,311.0 1578.9,411.0 L1428.9,486.0" fill="none" stroke="#2c7999" stroke-width="4.2"/><path d="M1766.0,181.0 C1763.0,246.0 1734.0,311.0 1576.0,411.0 L1426.0,486.0" fill="none" stroke="#4b8562" stroke-width="4.2"/><path d="M1763.1,181.0 C1760.1,246.0 1731.1,311.0 1573.1,411.0 L1423.1,486.0" fill="none" stroke="#6e8a3d" stroke-width="4.2"/><path d="M1760.2,181.0 C1757.2,246.0 1728.2,311.0 1570.2,411.0 L1420.2,486.0" fill="none" stroke="#958a28" stroke-width="4.2"/><path d="M1757.4,181.0 C1754.4,246.0 1725.4,311.0 1567.4,411.0 L1417.4,486.0" fill="none" stroke="#a08d25" stroke-width="4.2"/><path d="M1754.5,181.0 C1751.5,246.0 1722.5,311.0 1564.5,411.0 L1414.5,486.0" fill="none" stroke="#a89024" stroke-width="4.2"/><path d="M1846.0,178.4 C1843.0,243.4 1814.0,308.4 1656.0,408.4 L1506.0,483.4" fill="none" stroke="#0e1870" stroke-width="4.2"/><path d="M1843.1,178.4 C1840.1,243.4 1811.1,308.4 1653.1,408.4 L1503.1,483.4" fill="none" stroke="#111e7e" stroke-width="4.2"/><path d="M1840.2,178.4 C1837.2,243.4 1808.2,308.4 1650.2,408.4 L1500.2,483.4" fill="none" stroke="#14248d" stroke-width="4.2"/><path d="M1837.4,178.4 C1834.4,243.4 1805.4,308.4 1647.4,408.4 L1497.4,483.4" fill="none" stroke="#162b9d" stroke-width="4.2"/><path d="M1834.5,178.4 C1831.5,243.4 1802.5,308.4 1644.5,408.4 L1494.5,483.4" fill="none" stroke="#1732ad" stroke-width="4.2"/><path d="M1831.6,178.4 C1828.6,243.4 1799.6,308.4 1641.6,408.4 L1491.6,483.4" fill="none" stroke="#1939bd" stroke-width="4.2"/><path d="M1828.8,178.4 C1825.8,243.4 1796.8,308.4 1638.8,408.4 L1488.8,483.4" fill="none" stroke="#1b40c6" stroke-width="4.2"/><path d="M1825.9,178.4 C1822.9,243.4 1793.9,308.4 1635.9,408.4 L1485.9,483.4" fill="none" stroke="#1d48c9" stroke-width="4.2"/><path d="M1823.0,178.4 C1820.0,243.4 1791.0,308.4 1633.0,408.4 L1483.0,483.4" fill="none" stroke="#1e50cd" stroke-width="4.2"/><path d="M1820.1,178.4 C1817.1,243.4 1788.1,308.4 1630.1,408.4 L1480.1,483.4" fill="none" stroke="#2059cf" stroke-width="4.2"/><path d="M1817.2,178.4 C1814.2,243.4 1785.2,308.4 1627.2,408.4 L1477.2,483.4" fill="none" stroke="#2469b6" stroke-width="4.2"/><path d="M1814.4,178.4 C1811.4,243.4 1782.4,308.4 1624.4,408.4 L1474.4,483.4" fill="none" stroke="#2c7999" stroke-width="4.2"/><path d="M1811.5,178.4 C1808.5,243.4 1779.5,308.4 1621.5,408.4 L1471.5,483.4" fill="none" stroke="#4b8562" stroke-width="4.2"/><path d="M1808.6,178.4 C1805.6,243.4 1776.6,308.4 1618.6,408.4 L1468.6,483.4" fill="none" stroke="#6e8a3d" stroke-width="4.2"/><path d="M1805.8,178.4 C1802.8,243.4 1773.8,308.4 1615.8,408.4 L1465.8,483.4" fill="none" stroke="#958a28" stroke-width="4.2"/><path d="M1802.9,178.4 C1799.9,243.4 1770.9,308.4 1612.9,408.4 L1462.9,483.4" fill="none" stroke="#a08d25" stroke-width="4.2"/><path d="M1800.0,178.4 C1797.0,243.4 1768.0,308.4 1610.0,408.4 L1460.0,483.4" fill="none" stroke="#a89024" stroke-width="4.2"/><path d="M1891.5,175.8 C1888.5,240.8 1859.5,305.8 1701.5,405.8 L1551.5,480.8" fill="none" stroke="#0e1870" stroke-width="4.2"/><path d="M1888.6,175.8 C1885.6,240.8 1856.6,305.8 1698.6,405.8 L1548.6,480.8" fill="none" stroke="#111e7e" stroke-width="4.2"/><path d="M1885.8,175.8 C1882.8,240.8 1853.8,305.8 1695.8,405.8 L1545.8,480.8" fill="none" stroke="#14248d" stroke-width="4.2"/><path d="M1882.9,175.8 C1879.9,240.8 1850.9,305.8 1692.9,405.8 L1542.9,480.8" fill="none" stroke="#162b9d" stroke-width="4.2"/><path d="M1880.0,175.8 C1877.0,240.8 1848.0,305.8 1690.0,405.8 L1540.0,480.8" fill="none" stroke="#1732ad" stroke-width="4.2"/><path d="M1877.1,175.8 C1874.1,240.8 1845.1,305.8 1687.1,405.8 L1537.1,480.8" fill="none" stroke="#1939bd" stroke-width="4.2"/><path d="M1874.2,175.8 C1871.2,240.8 1842.2,305.8 1684.2,405.8 L1534.2,480.8" fill="none" stroke="#1b40c6" stroke-width="4.2"/><path d="M1871.4,175.8 C1868.4,240.8 1839.4,305.8 1681.4,405.8 L1531.4,480.8" fill="none" stroke="#1d48c9" stroke-width="4.2"/><path d="M1868.5,175.8 C1865.5,240.8 1836.5,305.8 1678.5,405.8 L1528.5,480.8" fill="none" stroke="#1e50cd" stroke-width="4.2"/><path d="M1865.6,175.8 C1862.6,240.8 1833.6,305.8 1675.6,405.8 L1525.6,480.8" fill="none" stroke="#2059cf" stroke-width="4.2"/><path d="M1862.8,175.8 C1859.8,240.8 1830.8,305.8 1672.8,405.8 L1522.8,480.8" fill="none" stroke="#2469b6" stroke-width="4.2"/><path d="M1859.9,175.8 C1856.9,240.8 1827.9,305.8 1669.9,405.8 L1519.9,480.8" fill="none" stroke="#2c7999" stroke-width="4.2"/><path d="M1857.0,175.8 C1854.0,240.8 1825.0,305.8 1667.0,405.8 L1517.0,480.8" fill="none" stroke="#4b8562" stroke-width="4.2"/><path d="M1854.1,175.8 C1851.1,240.8 1822.1,305.8 1664.1,405.8 L1514.1,480.8" fill="none" stroke="#6e8a3d" stroke-width="4.2"/><path d="M1851.2,175.8 C1848.2,240.8 1819.2,305.8 1661.2,405.8 L1511.2,480.8" fill="none" stroke="#958a28" stroke-width="4.2"/><path d="M1848.4,175.8 C1845.4,240.8 1816.4,305.8 1658.4,405.8 L1508.4,480.8" fill="none" stroke="#a08d25" stroke-width="4.2"/><path d="M1845.5,175.8 C1842.5,240.8 1813.5,305.8 1655.5,405.8 L1505.5,480.8" fill="none" stroke="#a89024" stroke-width="4.2"/><path d="M1937.0,173.2 C1934.0,238.2 1905.0,303.2 1747.0,403.2 L1597.0,478.2" fill="none" stroke="#0e1870" stroke-width="4.2"/><path d="M1934.1,173.2 C1931.1,238.2 1902.1,303.2 1744.1,403.2 L1594.1,478.2" fill="none" stroke="#111e7e" stroke-width="4.2"/><path d="M1931.2,173.2 C1928.2,238.2 1899.2,303.2 1741.2,403.2 L1591.2,478.2" fill="none" stroke="#14248d" stroke-width="4.2"/><path d="M1928.4,173.2 C1925.4,238.2 1896.4,303.2 1738.4,403.2 L1588.4,478.2" fill="none" stroke="#162b9d" stroke-width="4.2"/><path d="M1925.5,173.2 C1922.5,238.2 1893.5,303.2 1735.5,403.2 L1585.5,478.2" fill="none" stroke="#1732ad" stroke-width="4.2"/><path d="M1922.6,173.2 C1919.6,238.2 1890.6,303.2 1732.6,403.2 L1582.6,478.2" fill="none" stroke="#1939bd" stroke-width="4.2"/><path d="M1919.8,173.2 C1916.8,238.2 1887.8,303.2 1729.8,403.2 L1579.8,478.2" fill="none" stroke="#1b40c6" stroke-width="4.2"/><path d="M1916.9,173.2 C1913.9,238.2 1884.9,303.2 1726.9,403.2 L1576.9,478.2" fill="none" stroke="#1d48c9" stroke-width="4.2"/><path d="M1914.0,173.2 C1911.0,238.2 1882.0,303.2 1724.0,403.2 L1574.0,478.2" fill="none" stroke="#1e50cd" stroke-width="4.2"/><path d="M1911.1,173.2 C1908.1,238.2 1879.1,303.2 1721.1,403.2 L1571.1,478.2" fill="none" stroke="#2059cf" stroke-width="4.2"/><path d="M1908.2,173.2 C1905.2,238.2 1876.2,303.2 1718.2,403.2 L1568.2,478.2" fill="none" stroke="#2469b6" stroke-width="4.2"/><path d="M1905.4,173.2 C1902.4,238.2 1873.4,303.2 1715.4,403.2 L1565.4,478.2" fill="none" stroke="#2c7999" stroke-width="4.2"/><path d="M1902.5,173.2 C1899.5,238.2 1870.5,303.2 1712.5,403.2 L1562.5,478.2" fill="none" stroke="#4b8562" stroke-width="4.2"/><path d="M1899.6,173.2 C1896.6,238.2 1867.6,303.2 1709.6,403.2 L1559.6,478.2" fill="none" stroke="#6e8a3d" stroke-width="4.2"/><path d="M1896.8,173.2 C1893.8,238.2 1864.8,303.2 1706.8,403.2 L1556.8,478.2" fill="none" stroke="#958a28" stroke-width="4.2"/><path d="M1893.9,173.2 C1890.9,238.2 1861.9,303.2 1703.9,403.2 L1553.9,478.2" fill="none" stroke="#a08d25" stroke-width="4.2"/><path d="M1891.0,173.2 C1888.0,238.2 1859.0,303.2 1701.0,403.2 L1551.0,478.2" fill="none" stroke="#a89024" stroke-width="4.2"/><polygon points="1472.0,154.0 1472.0,240.0 1368.5,239.8 1390.5,206.8 1414.0,237.2 1436.0,204.2 1459.5,234.6 1481.5,201.6 1505.0,232.0 1527.0,199.0 1550.5,229.4 1572.5,196.4 1596.0,226.8 1618.0,193.8 1641.5,224.2 1663.5,191.2 1687.0,221.6 1709.0,188.6 1732.5,219.0 1754.5,186.0 1778.0,216.4 1800.0,183.4 1823.5,213.8 1845.5,180.8 1869.0,211.2 1891.0,178.2 1764.0,180.0 1764.0,154.0" fill="#ffffff"/><line x1="1484.6" y1="274.6" x2="1584" y2="171" stroke="#70f0a0" stroke-width="2.6"/><line x1="1489" y1="300.5" x2="1566.7" y2="229.3" stroke="#40f040" stroke-width="2.6"/><line x1="1493.3" y1="343.7" x2="1597" y2="238" stroke="#60f0b0" stroke-width="2.6"/><line x1="1571" y1="391" x2="1674.7" y2="246.6" stroke="#40f040" stroke-width="2.6"/><line x1="1579.7" y1="352.4" x2="1644.5" y2="300.5" stroke="#50f080" stroke-width="2.4"/><line x1="1618.5" y1="412.9" x2="1696.3" y2="317.8" stroke="#40f060" stroke-width="2.6"/><line x1="1601.3" y1="168.8" x2="1666" y2="307" stroke="#d02040" stroke-width="2.2"/><line x1="1540.8" y1="222.8" x2="1601.3" y2="391.3" stroke="#e03030" stroke-width="2.4"/><line x1="1577.5" y1="272.5" x2="1657.4" y2="412.9" stroke="#d82838" stroke-width="2.2"/><line x1="1610" y1="300.5" x2="1653" y2="382.6" stroke="#e02828" stroke-width="2.0"/><line x1="1700.6" y1="201.2" x2="1743.8" y2="300.5" stroke="#e03030" stroke-width="2.4"/><line x1="1489" y1="253" x2="1510.6" y2="330.8" stroke="#d02848" stroke-width="2.0"/><line x1="1569" y1="391" x2="1600" y2="395" stroke="#d02848" stroke-width="2.0"/><line x1="1511" y1="212" x2="1528" y2="221" stroke="#d02848" stroke-width="2.0"/><line x1="1688" y1="230" x2="1745" y2="330" stroke="#d83030" stroke-width="2.0"/><polygon points="1616,444 1629,424 1643,444" fill="#ffffff"/></g><circle cx="1618" cy="300" r="141" fill="none" stroke="#000" stroke-width="3.5"/></g><circle cx="1202" cy="464" r="32" fill="none" stroke="#000" stroke-width="3"/><line x1="1230" y1="441" x2="1490" y2="367" stroke="#000" stroke-width="3"/><rect x="1448" y="61" width="259" height="70" fill="#fff" stroke="#000" stroke-width="2.5"/><line x1="1468" y1="79.5" x2="1535" y2="79.5" stroke="#c8283c" stroke-width="2"/><line x1="1468" y1="111" x2="1535" y2="111" stroke="#40e040" stroke-width="2.4"/><text x="1551" y="86.3" letter-spacing="0.7" font-family="Liberation Sans, Arial, sans-serif" font-size="22" fill="#2a2a2a">Incident light</text><text x="1551" y="116.2" letter-spacing="1.2" font-family="Liberation Sans, Arial, sans-serif" font-size="22" fill="#2a2a2a">Outgoing light</text><text x="411" y="658" text-anchor="middle" font-family="Liberation Serif, Times New Roman, serif" font-size="34.5" fill="#000">Overall incident effect schematic</text><text x="1304" y="658.5" text-anchor="middle" font-family="Liberation Serif, Times New Roman, serif" font-size="34.5" fill="#000">Local effect schematic</text></svg></body></html>
